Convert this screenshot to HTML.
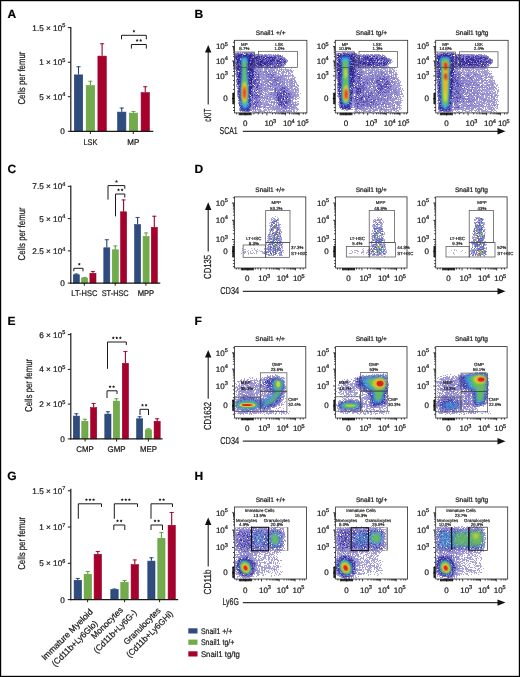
<!DOCTYPE html>
<html><head><meta charset="utf-8"><style>
html,body{margin:0;padding:0;background:#fff;width:520px;height:677px;overflow:hidden}
svg{display:block}
text{font-family:"Liberation Sans",sans-serif;text-rendering:geometricPrecision;stroke:#1a1a1a;stroke-width:0.22px}
svg{will-change:transform}
</style></head><body>
<svg width="520" height="677" viewBox="0 0 520 677" fill="#1a1a1a">
<defs><filter id="b1" x="-1" y="-1" width="3" height="3"><feGaussianBlur stdDeviation="0.6"/></filter>
<filter id="b2" x="-1" y="-1" width="3" height="3"><feGaussianBlur stdDeviation="1.2"/></filter>
<filter id="b3" x="-1" y="-1" width="3" height="3"><feGaussianBlur stdDeviation="1.8"/></filter>
<filter id="b4" x="-1" y="-1" width="3" height="3"><feGaussianBlur stdDeviation="2.4"/></filter>
<filter id="b5" x="-1" y="-1" width="3" height="3"><feGaussianBlur stdDeviation="3"/></filter>
<filter id="b6" x="-1" y="-1" width="3" height="3"><feGaussianBlur stdDeviation="3.6"/></filter>
<filter id="dn0" x="0" y="0" width="1" height="1" color-interpolation-filters="sRGB">
<feGaussianBlur in="SourceAlpha" stdDeviation="0.6" result="d"/>
<feTurbulence type="fractalNoise" baseFrequency="1.7" numOctaves="2" seed="3" result="n"/>
<feColorMatrix in="n" type="matrix" values="0 0 0 0 0 0 0 0 0 0 0 0 0 0 0 1 0 0 0 0" result="na"/>
<feComposite in="d" in2="na" operator="arithmetic" k1="3.2" k2="-0.6" k3="0" k4="0" result="v"/>
<feColorMatrix in="v" type="matrix" values="0 0 0 1 0 0 0 0 1 0 0 0 0 1 0 0 0 0 0 1" result="g"/>
<feComponentTransfer in="g" result="col"><feFuncR type="table" tableValues="0.761 0.741 0.722 0.702 0.682 0.663 0.643 0.617 0.591 0.565 0.539 0.512 0.486 0.459 0.431 0.404 0.376 0.349 0.322 0.307 0.293 0.278 0.264 0.250 0.235 0.228 0.222 0.215 0.208 0.201 0.194 0.187 0.180 0.178 0.176 0.175 0.173 0.171 0.169 0.167 0.165"/><feFuncG type="table" tableValues="0.741 0.721 0.701 0.680 0.660 0.640 0.620 0.592 0.565 0.537 0.510 0.482 0.455 0.426 0.397 0.369 0.340 0.311 0.282 0.267 0.251 0.235 0.220 0.204 0.188 0.181 0.175 0.168 0.161 0.154 0.147 0.140 0.133 0.132 0.130 0.129 0.127 0.126 0.125 0.123 0.122"/><feFuncB type="table" tableValues="0.902 0.893 0.884 0.875 0.865 0.856 0.847 0.835 0.824 0.812 0.800 0.788 0.776 0.759 0.742 0.725 0.708 0.692 0.675 0.665 0.656 0.647 0.638 0.629 0.620 0.614 0.608 0.602 0.596 0.590 0.584 0.578 0.573 0.570 0.567 0.564 0.561 0.558 0.555 0.552 0.549"/></feComponentTransfer>
<feColorMatrix in="g" type="matrix" values="0 0 0 0 0 0 0 0 0 0 0 0 0 0 0 1 0 0 0 0"/>
<feComponentTransfer result="m"><feFuncA type="discrete" tableValues="0 0 0 0 0 1 1 1 1 1 1 1 1 1 1 1 1 1 1 1 1 1 1 1 1 1 1 1 1 1 1 1 1 1 1 1 1 1 1 1 1 1 1 1 1 1 1 1 1 1"/></feComponentTransfer>
<feComposite in="col" in2="m" operator="in"/>
<feGaussianBlur stdDeviation="0.5"/>
</filter>
<clipPath id="cp0"><rect x="234.5" y="40.3" width="72.4" height="72.6"/></clipPath>
<filter id="dn1" x="0" y="0" width="1" height="1" color-interpolation-filters="sRGB">
<feGaussianBlur in="SourceAlpha" stdDeviation="0.6" result="d"/>
<feTurbulence type="fractalNoise" baseFrequency="1.7" numOctaves="2" seed="10" result="n"/>
<feColorMatrix in="n" type="matrix" values="0 0 0 0 0 0 0 0 0 0 0 0 0 0 0 1 0 0 0 0" result="na"/>
<feComposite in="d" in2="na" operator="arithmetic" k1="3.2" k2="-0.6" k3="0" k4="0" result="v"/>
<feColorMatrix in="v" type="matrix" values="0 0 0 1 0 0 0 0 1 0 0 0 0 1 0 0 0 0 0 1" result="g"/>
<feComponentTransfer in="g" result="col"><feFuncR type="table" tableValues="0.761 0.741 0.722 0.702 0.682 0.663 0.643 0.617 0.591 0.565 0.539 0.512 0.486 0.459 0.431 0.404 0.376 0.349 0.322 0.307 0.293 0.278 0.264 0.250 0.235 0.228 0.222 0.215 0.208 0.201 0.194 0.187 0.180 0.178 0.176 0.175 0.173 0.171 0.169 0.167 0.165"/><feFuncG type="table" tableValues="0.741 0.721 0.701 0.680 0.660 0.640 0.620 0.592 0.565 0.537 0.510 0.482 0.455 0.426 0.397 0.369 0.340 0.311 0.282 0.267 0.251 0.235 0.220 0.204 0.188 0.181 0.175 0.168 0.161 0.154 0.147 0.140 0.133 0.132 0.130 0.129 0.127 0.126 0.125 0.123 0.122"/><feFuncB type="table" tableValues="0.902 0.893 0.884 0.875 0.865 0.856 0.847 0.835 0.824 0.812 0.800 0.788 0.776 0.759 0.742 0.725 0.708 0.692 0.675 0.665 0.656 0.647 0.638 0.629 0.620 0.614 0.608 0.602 0.596 0.590 0.584 0.578 0.573 0.570 0.567 0.564 0.561 0.558 0.555 0.552 0.549"/></feComponentTransfer>
<feColorMatrix in="g" type="matrix" values="0 0 0 0 0 0 0 0 0 0 0 0 0 0 0 1 0 0 0 0"/>
<feComponentTransfer result="m"><feFuncA type="discrete" tableValues="0 0 0 0 0 1 1 1 1 1 1 1 1 1 1 1 1 1 1 1 1 1 1 1 1 1 1 1 1 1 1 1 1 1 1 1 1 1 1 1 1 1 1 1 1 1 1 1 1 1"/></feComponentTransfer>
<feComposite in="col" in2="m" operator="in"/>
<feGaussianBlur stdDeviation="0.5"/>
</filter>
<clipPath id="cp1"><rect x="335.3" y="40.3" width="72.4" height="72.6"/></clipPath>
<filter id="dn2" x="0" y="0" width="1" height="1" color-interpolation-filters="sRGB">
<feGaussianBlur in="SourceAlpha" stdDeviation="0.6" result="d"/>
<feTurbulence type="fractalNoise" baseFrequency="1.7" numOctaves="2" seed="17" result="n"/>
<feColorMatrix in="n" type="matrix" values="0 0 0 0 0 0 0 0 0 0 0 0 0 0 0 1 0 0 0 0" result="na"/>
<feComposite in="d" in2="na" operator="arithmetic" k1="3.2" k2="-0.6" k3="0" k4="0" result="v"/>
<feColorMatrix in="v" type="matrix" values="0 0 0 1 0 0 0 0 1 0 0 0 0 1 0 0 0 0 0 1" result="g"/>
<feComponentTransfer in="g" result="col"><feFuncR type="table" tableValues="0.761 0.741 0.722 0.702 0.682 0.663 0.643 0.617 0.591 0.565 0.539 0.512 0.486 0.459 0.431 0.404 0.376 0.349 0.322 0.307 0.293 0.278 0.264 0.250 0.235 0.228 0.222 0.215 0.208 0.201 0.194 0.187 0.180 0.178 0.176 0.175 0.173 0.171 0.169 0.167 0.165"/><feFuncG type="table" tableValues="0.741 0.721 0.701 0.680 0.660 0.640 0.620 0.592 0.565 0.537 0.510 0.482 0.455 0.426 0.397 0.369 0.340 0.311 0.282 0.267 0.251 0.235 0.220 0.204 0.188 0.181 0.175 0.168 0.161 0.154 0.147 0.140 0.133 0.132 0.130 0.129 0.127 0.126 0.125 0.123 0.122"/><feFuncB type="table" tableValues="0.902 0.893 0.884 0.875 0.865 0.856 0.847 0.835 0.824 0.812 0.800 0.788 0.776 0.759 0.742 0.725 0.708 0.692 0.675 0.665 0.656 0.647 0.638 0.629 0.620 0.614 0.608 0.602 0.596 0.590 0.584 0.578 0.573 0.570 0.567 0.564 0.561 0.558 0.555 0.552 0.549"/></feComponentTransfer>
<feColorMatrix in="g" type="matrix" values="0 0 0 0 0 0 0 0 0 0 0 0 0 0 0 1 0 0 0 0"/>
<feComponentTransfer result="m"><feFuncA type="discrete" tableValues="0 0 0 0 0 1 1 1 1 1 1 1 1 1 1 1 1 1 1 1 1 1 1 1 1 1 1 1 1 1 1 1 1 1 1 1 1 1 1 1 1 1 1 1 1 1 1 1 1 1"/></feComponentTransfer>
<feComposite in="col" in2="m" operator="in"/>
<feGaussianBlur stdDeviation="0.5"/>
</filter>
<clipPath id="cp2"><rect x="435.7" y="40.3" width="72.4" height="72.6"/></clipPath>
<filter id="dn3" x="0" y="0" width="1" height="1" color-interpolation-filters="sRGB">
<feGaussianBlur in="SourceAlpha" stdDeviation="0.6" result="d"/>
<feTurbulence type="fractalNoise" baseFrequency="1.9" numOctaves="2" seed="24" result="n"/>
<feColorMatrix in="n" type="matrix" values="0 0 0 0 0 0 0 0 0 0 0 0 0 0 0 1 0 0 0 0" result="na"/>
<feComposite in="d" in2="na" operator="arithmetic" k1="4" k2="-1" k3="0" k4="0" result="v"/>
<feColorMatrix in="v" type="matrix" values="0 0 0 1 0 0 0 0 1 0 0 0 0 1 0 0 0 0 0 1" result="g"/>
<feComponentTransfer in="g" result="col"><feFuncR type="table" tableValues="0.800 0.785 0.769 0.754 0.738 0.723 0.698 0.659 0.620 0.575 0.506 0.437 0.380 0.325 0.314 0.327 0.396 0.559 0.784 0.882 0.925 0.886 0.876 0.872 0.869 0.866 0.862 0.859 0.856 0.852 0.849 0.846 0.842 0.839 0.836 0.832 0.829 0.826 0.822 0.819 0.816"/><feFuncG type="table" tableValues="0.784 0.768 0.751 0.734 0.717 0.700 0.675 0.635 0.596 0.550 0.478 0.407 0.386 0.378 0.541 0.712 0.741 0.776 0.816 0.698 0.518 0.243 0.184 0.179 0.174 0.169 0.164 0.159 0.154 0.149 0.144 0.139 0.134 0.129 0.124 0.119 0.114 0.109 0.104 0.099 0.094"/><feFuncB type="table" tableValues="0.918 0.909 0.901 0.892 0.884 0.876 0.865 0.850 0.835 0.817 0.784 0.752 0.755 0.766 0.808 0.792 0.518 0.325 0.188 0.149 0.125 0.125 0.124 0.122 0.121 0.119 0.117 0.116 0.114 0.112 0.111 0.109 0.107 0.106 0.104 0.102 0.101 0.099 0.097 0.096 0.094"/></feComponentTransfer>
<feColorMatrix in="g" type="matrix" values="0 0 0 0 0 0 0 0 0 0 0 0 0 0 0 1 0 0 0 0"/>
<feComponentTransfer result="m"><feFuncA type="discrete" tableValues="0 0 0 0 0 0 1 1 1 1 1 1 1 1 1 1 1 1 1 1 1 1 1 1 1 1 1 1 1 1 1 1 1 1 1 1 1 1 1 1 1 1 1 1 1 1 1 1 1 1"/></feComponentTransfer>
<feComposite in="col" in2="m" operator="in"/>
<feGaussianBlur stdDeviation="0.6"/>
</filter>
<clipPath id="cp3"><rect x="234.4" y="196.9" width="71.4" height="71.1"/></clipPath>
<filter id="dn4" x="0" y="0" width="1" height="1" color-interpolation-filters="sRGB">
<feGaussianBlur in="SourceAlpha" stdDeviation="0.6" result="d"/>
<feTurbulence type="fractalNoise" baseFrequency="1.9" numOctaves="2" seed="31" result="n"/>
<feColorMatrix in="n" type="matrix" values="0 0 0 0 0 0 0 0 0 0 0 0 0 0 0 1 0 0 0 0" result="na"/>
<feComposite in="d" in2="na" operator="arithmetic" k1="4" k2="-1" k3="0" k4="0" result="v"/>
<feColorMatrix in="v" type="matrix" values="0 0 0 1 0 0 0 0 1 0 0 0 0 1 0 0 0 0 0 1" result="g"/>
<feComponentTransfer in="g" result="col"><feFuncR type="table" tableValues="0.800 0.785 0.769 0.754 0.738 0.723 0.698 0.659 0.620 0.575 0.506 0.437 0.380 0.325 0.314 0.327 0.396 0.559 0.784 0.882 0.925 0.886 0.876 0.872 0.869 0.866 0.862 0.859 0.856 0.852 0.849 0.846 0.842 0.839 0.836 0.832 0.829 0.826 0.822 0.819 0.816"/><feFuncG type="table" tableValues="0.784 0.768 0.751 0.734 0.717 0.700 0.675 0.635 0.596 0.550 0.478 0.407 0.386 0.378 0.541 0.712 0.741 0.776 0.816 0.698 0.518 0.243 0.184 0.179 0.174 0.169 0.164 0.159 0.154 0.149 0.144 0.139 0.134 0.129 0.124 0.119 0.114 0.109 0.104 0.099 0.094"/><feFuncB type="table" tableValues="0.918 0.909 0.901 0.892 0.884 0.876 0.865 0.850 0.835 0.817 0.784 0.752 0.755 0.766 0.808 0.792 0.518 0.325 0.188 0.149 0.125 0.125 0.124 0.122 0.121 0.119 0.117 0.116 0.114 0.112 0.111 0.109 0.107 0.106 0.104 0.102 0.101 0.099 0.097 0.096 0.094"/></feComponentTransfer>
<feColorMatrix in="g" type="matrix" values="0 0 0 0 0 0 0 0 0 0 0 0 0 0 0 1 0 0 0 0"/>
<feComponentTransfer result="m"><feFuncA type="discrete" tableValues="0 0 0 0 0 0 1 1 1 1 1 1 1 1 1 1 1 1 1 1 1 1 1 1 1 1 1 1 1 1 1 1 1 1 1 1 1 1 1 1 1 1 1 1 1 1 1 1 1 1"/></feComponentTransfer>
<feComposite in="col" in2="m" operator="in"/>
<feGaussianBlur stdDeviation="0.6"/>
</filter>
<clipPath id="cp4"><rect x="335.6" y="196.9" width="71.4" height="71.1"/></clipPath>
<filter id="dn5" x="0" y="0" width="1" height="1" color-interpolation-filters="sRGB">
<feGaussianBlur in="SourceAlpha" stdDeviation="0.6" result="d"/>
<feTurbulence type="fractalNoise" baseFrequency="1.9" numOctaves="2" seed="38" result="n"/>
<feColorMatrix in="n" type="matrix" values="0 0 0 0 0 0 0 0 0 0 0 0 0 0 0 1 0 0 0 0" result="na"/>
<feComposite in="d" in2="na" operator="arithmetic" k1="4" k2="-1" k3="0" k4="0" result="v"/>
<feColorMatrix in="v" type="matrix" values="0 0 0 1 0 0 0 0 1 0 0 0 0 1 0 0 0 0 0 1" result="g"/>
<feComponentTransfer in="g" result="col"><feFuncR type="table" tableValues="0.800 0.785 0.769 0.754 0.738 0.723 0.698 0.659 0.620 0.575 0.506 0.437 0.380 0.325 0.314 0.327 0.396 0.559 0.784 0.882 0.925 0.886 0.876 0.872 0.869 0.866 0.862 0.859 0.856 0.852 0.849 0.846 0.842 0.839 0.836 0.832 0.829 0.826 0.822 0.819 0.816"/><feFuncG type="table" tableValues="0.784 0.768 0.751 0.734 0.717 0.700 0.675 0.635 0.596 0.550 0.478 0.407 0.386 0.378 0.541 0.712 0.741 0.776 0.816 0.698 0.518 0.243 0.184 0.179 0.174 0.169 0.164 0.159 0.154 0.149 0.144 0.139 0.134 0.129 0.124 0.119 0.114 0.109 0.104 0.099 0.094"/><feFuncB type="table" tableValues="0.918 0.909 0.901 0.892 0.884 0.876 0.865 0.850 0.835 0.817 0.784 0.752 0.755 0.766 0.808 0.792 0.518 0.325 0.188 0.149 0.125 0.125 0.124 0.122 0.121 0.119 0.117 0.116 0.114 0.112 0.111 0.109 0.107 0.106 0.104 0.102 0.101 0.099 0.097 0.096 0.094"/></feComponentTransfer>
<feColorMatrix in="g" type="matrix" values="0 0 0 0 0 0 0 0 0 0 0 0 0 0 0 1 0 0 0 0"/>
<feComponentTransfer result="m"><feFuncA type="discrete" tableValues="0 0 0 0 0 0 1 1 1 1 1 1 1 1 1 1 1 1 1 1 1 1 1 1 1 1 1 1 1 1 1 1 1 1 1 1 1 1 1 1 1 1 1 1 1 1 1 1 1 1"/></feComponentTransfer>
<feComposite in="col" in2="m" operator="in"/>
<feGaussianBlur stdDeviation="0.6"/>
</filter>
<clipPath id="cp5"><rect x="435.7" y="196.9" width="71.4" height="71.1"/></clipPath>
<filter id="dn6" x="0" y="0" width="1" height="1" color-interpolation-filters="sRGB">
<feGaussianBlur in="SourceAlpha" stdDeviation="0.6" result="d"/>
<feTurbulence type="fractalNoise" baseFrequency="1.7" numOctaves="2" seed="45" result="n"/>
<feColorMatrix in="n" type="matrix" values="0 0 0 0 0 0 0 0 0 0 0 0 0 0 0 1 0 0 0 0" result="na"/>
<feComposite in="d" in2="na" operator="arithmetic" k1="3.2" k2="-0.6" k3="0" k4="0" result="v"/>
<feColorMatrix in="v" type="matrix" values="0 0 0 1 0 0 0 0 1 0 0 0 0 1 0 0 0 0 0 1" result="g"/>
<feComponentTransfer in="g" result="col"><feFuncR type="table" tableValues="0.761 0.741 0.722 0.702 0.682 0.663 0.643 0.617 0.591 0.565 0.539 0.512 0.486 0.459 0.431 0.404 0.376 0.349 0.322 0.307 0.293 0.278 0.264 0.250 0.235 0.228 0.222 0.215 0.208 0.201 0.194 0.187 0.180 0.178 0.176 0.175 0.173 0.171 0.169 0.167 0.165"/><feFuncG type="table" tableValues="0.741 0.721 0.701 0.680 0.660 0.640 0.620 0.592 0.565 0.537 0.510 0.482 0.455 0.426 0.397 0.369 0.340 0.311 0.282 0.267 0.251 0.235 0.220 0.204 0.188 0.181 0.175 0.168 0.161 0.154 0.147 0.140 0.133 0.132 0.130 0.129 0.127 0.126 0.125 0.123 0.122"/><feFuncB type="table" tableValues="0.902 0.893 0.884 0.875 0.865 0.856 0.847 0.835 0.824 0.812 0.800 0.788 0.776 0.759 0.742 0.725 0.708 0.692 0.675 0.665 0.656 0.647 0.638 0.629 0.620 0.614 0.608 0.602 0.596 0.590 0.584 0.578 0.573 0.570 0.567 0.564 0.561 0.558 0.555 0.552 0.549"/></feComponentTransfer>
<feColorMatrix in="g" type="matrix" values="0 0 0 0 0 0 0 0 0 0 0 0 0 0 0 1 0 0 0 0"/>
<feComponentTransfer result="m"><feFuncA type="discrete" tableValues="0 0 0 0 0 1 1 1 1 1 1 1 1 1 1 1 1 1 1 1 1 1 1 1 1 1 1 1 1 1 1 1 1 1 1 1 1 1 1 1 1 1 1 1 1 1 1 1 1 1"/></feComponentTransfer>
<feComposite in="col" in2="m" operator="in"/>
<feGaussianBlur stdDeviation="0.5"/>
</filter>
<clipPath id="cp6"><rect x="234.4" y="346.6" width="71.4" height="71.4"/></clipPath>
<filter id="dn7" x="0" y="0" width="1" height="1" color-interpolation-filters="sRGB">
<feGaussianBlur in="SourceAlpha" stdDeviation="0.6" result="d"/>
<feTurbulence type="fractalNoise" baseFrequency="1.7" numOctaves="2" seed="52" result="n"/>
<feColorMatrix in="n" type="matrix" values="0 0 0 0 0 0 0 0 0 0 0 0 0 0 0 1 0 0 0 0" result="na"/>
<feComposite in="d" in2="na" operator="arithmetic" k1="3.2" k2="-0.6" k3="0" k4="0" result="v"/>
<feColorMatrix in="v" type="matrix" values="0 0 0 1 0 0 0 0 1 0 0 0 0 1 0 0 0 0 0 1" result="g"/>
<feComponentTransfer in="g" result="col"><feFuncR type="table" tableValues="0.761 0.741 0.722 0.702 0.682 0.663 0.643 0.617 0.591 0.565 0.539 0.512 0.486 0.459 0.431 0.404 0.376 0.349 0.322 0.307 0.293 0.278 0.264 0.250 0.235 0.228 0.222 0.215 0.208 0.201 0.194 0.187 0.180 0.178 0.176 0.175 0.173 0.171 0.169 0.167 0.165"/><feFuncG type="table" tableValues="0.741 0.721 0.701 0.680 0.660 0.640 0.620 0.592 0.565 0.537 0.510 0.482 0.455 0.426 0.397 0.369 0.340 0.311 0.282 0.267 0.251 0.235 0.220 0.204 0.188 0.181 0.175 0.168 0.161 0.154 0.147 0.140 0.133 0.132 0.130 0.129 0.127 0.126 0.125 0.123 0.122"/><feFuncB type="table" tableValues="0.902 0.893 0.884 0.875 0.865 0.856 0.847 0.835 0.824 0.812 0.800 0.788 0.776 0.759 0.742 0.725 0.708 0.692 0.675 0.665 0.656 0.647 0.638 0.629 0.620 0.614 0.608 0.602 0.596 0.590 0.584 0.578 0.573 0.570 0.567 0.564 0.561 0.558 0.555 0.552 0.549"/></feComponentTransfer>
<feColorMatrix in="g" type="matrix" values="0 0 0 0 0 0 0 0 0 0 0 0 0 0 0 1 0 0 0 0"/>
<feComponentTransfer result="m"><feFuncA type="discrete" tableValues="0 0 0 0 0 1 1 1 1 1 1 1 1 1 1 1 1 1 1 1 1 1 1 1 1 1 1 1 1 1 1 1 1 1 1 1 1 1 1 1 1 1 1 1 1 1 1 1 1 1"/></feComponentTransfer>
<feComposite in="col" in2="m" operator="in"/>
<feGaussianBlur stdDeviation="0.5"/>
</filter>
<clipPath id="cp7"><rect x="335.6" y="346.6" width="71.4" height="71.4"/></clipPath>
<filter id="dn8" x="0" y="0" width="1" height="1" color-interpolation-filters="sRGB">
<feGaussianBlur in="SourceAlpha" stdDeviation="0.6" result="d"/>
<feTurbulence type="fractalNoise" baseFrequency="1.7" numOctaves="2" seed="59" result="n"/>
<feColorMatrix in="n" type="matrix" values="0 0 0 0 0 0 0 0 0 0 0 0 0 0 0 1 0 0 0 0" result="na"/>
<feComposite in="d" in2="na" operator="arithmetic" k1="3.2" k2="-0.6" k3="0" k4="0" result="v"/>
<feColorMatrix in="v" type="matrix" values="0 0 0 1 0 0 0 0 1 0 0 0 0 1 0 0 0 0 0 1" result="g"/>
<feComponentTransfer in="g" result="col"><feFuncR type="table" tableValues="0.761 0.741 0.722 0.702 0.682 0.663 0.643 0.617 0.591 0.565 0.539 0.512 0.486 0.459 0.431 0.404 0.376 0.349 0.322 0.307 0.293 0.278 0.264 0.250 0.235 0.228 0.222 0.215 0.208 0.201 0.194 0.187 0.180 0.178 0.176 0.175 0.173 0.171 0.169 0.167 0.165"/><feFuncG type="table" tableValues="0.741 0.721 0.701 0.680 0.660 0.640 0.620 0.592 0.565 0.537 0.510 0.482 0.455 0.426 0.397 0.369 0.340 0.311 0.282 0.267 0.251 0.235 0.220 0.204 0.188 0.181 0.175 0.168 0.161 0.154 0.147 0.140 0.133 0.132 0.130 0.129 0.127 0.126 0.125 0.123 0.122"/><feFuncB type="table" tableValues="0.902 0.893 0.884 0.875 0.865 0.856 0.847 0.835 0.824 0.812 0.800 0.788 0.776 0.759 0.742 0.725 0.708 0.692 0.675 0.665 0.656 0.647 0.638 0.629 0.620 0.614 0.608 0.602 0.596 0.590 0.584 0.578 0.573 0.570 0.567 0.564 0.561 0.558 0.555 0.552 0.549"/></feComponentTransfer>
<feColorMatrix in="g" type="matrix" values="0 0 0 0 0 0 0 0 0 0 0 0 0 0 0 1 0 0 0 0"/>
<feComponentTransfer result="m"><feFuncA type="discrete" tableValues="0 0 0 0 0 1 1 1 1 1 1 1 1 1 1 1 1 1 1 1 1 1 1 1 1 1 1 1 1 1 1 1 1 1 1 1 1 1 1 1 1 1 1 1 1 1 1 1 1 1"/></feComponentTransfer>
<feComposite in="col" in2="m" operator="in"/>
<feGaussianBlur stdDeviation="0.5"/>
</filter>
<clipPath id="cp8"><rect x="435.7" y="346.6" width="71.4" height="71.4"/></clipPath>
<filter id="dn9" x="0" y="0" width="1" height="1" color-interpolation-filters="sRGB">
<feGaussianBlur in="SourceAlpha" stdDeviation="0.6" result="d"/>
<feTurbulence type="fractalNoise" baseFrequency="1.7" numOctaves="2" seed="66" result="n"/>
<feColorMatrix in="n" type="matrix" values="0 0 0 0 0 0 0 0 0 0 0 0 0 0 0 1 0 0 0 0" result="na"/>
<feComposite in="d" in2="na" operator="arithmetic" k1="3.2" k2="-0.6" k3="0" k4="0" result="v"/>
<feColorMatrix in="v" type="matrix" values="0 0 0 1 0 0 0 0 1 0 0 0 0 1 0 0 0 0 0 1" result="g"/>
<feComponentTransfer in="g" result="col"><feFuncR type="table" tableValues="0.761 0.741 0.722 0.702 0.682 0.663 0.643 0.617 0.591 0.565 0.539 0.512 0.486 0.459 0.431 0.404 0.376 0.349 0.322 0.307 0.293 0.278 0.264 0.250 0.235 0.228 0.222 0.215 0.208 0.201 0.194 0.187 0.180 0.178 0.176 0.175 0.173 0.171 0.169 0.167 0.165"/><feFuncG type="table" tableValues="0.741 0.721 0.701 0.680 0.660 0.640 0.620 0.592 0.565 0.537 0.510 0.482 0.455 0.426 0.397 0.369 0.340 0.311 0.282 0.267 0.251 0.235 0.220 0.204 0.188 0.181 0.175 0.168 0.161 0.154 0.147 0.140 0.133 0.132 0.130 0.129 0.127 0.126 0.125 0.123 0.122"/><feFuncB type="table" tableValues="0.902 0.893 0.884 0.875 0.865 0.856 0.847 0.835 0.824 0.812 0.800 0.788 0.776 0.759 0.742 0.725 0.708 0.692 0.675 0.665 0.656 0.647 0.638 0.629 0.620 0.614 0.608 0.602 0.596 0.590 0.584 0.578 0.573 0.570 0.567 0.564 0.561 0.558 0.555 0.552 0.549"/></feComponentTransfer>
<feColorMatrix in="g" type="matrix" values="0 0 0 0 0 0 0 0 0 0 0 0 0 0 0 1 0 0 0 0"/>
<feComponentTransfer result="m"><feFuncA type="discrete" tableValues="0 0 0 0 0 1 1 1 1 1 1 1 1 1 1 1 1 1 1 1 1 1 1 1 1 1 1 1 1 1 1 1 1 1 1 1 1 1 1 1 1 1 1 1 1 1 1 1 1 1"/></feComponentTransfer>
<feComposite in="col" in2="m" operator="in"/>
<feGaussianBlur stdDeviation="0.5"/>
</filter>
<clipPath id="cp9"><rect x="234.5" y="507" width="72" height="72"/></clipPath>
<filter id="dn10" x="0" y="0" width="1" height="1" color-interpolation-filters="sRGB">
<feGaussianBlur in="SourceAlpha" stdDeviation="0.6" result="d"/>
<feTurbulence type="fractalNoise" baseFrequency="1.7" numOctaves="2" seed="73" result="n"/>
<feColorMatrix in="n" type="matrix" values="0 0 0 0 0 0 0 0 0 0 0 0 0 0 0 1 0 0 0 0" result="na"/>
<feComposite in="d" in2="na" operator="arithmetic" k1="3.2" k2="-0.6" k3="0" k4="0" result="v"/>
<feColorMatrix in="v" type="matrix" values="0 0 0 1 0 0 0 0 1 0 0 0 0 1 0 0 0 0 0 1" result="g"/>
<feComponentTransfer in="g" result="col"><feFuncR type="table" tableValues="0.761 0.741 0.722 0.702 0.682 0.663 0.643 0.617 0.591 0.565 0.539 0.512 0.486 0.459 0.431 0.404 0.376 0.349 0.322 0.307 0.293 0.278 0.264 0.250 0.235 0.228 0.222 0.215 0.208 0.201 0.194 0.187 0.180 0.178 0.176 0.175 0.173 0.171 0.169 0.167 0.165"/><feFuncG type="table" tableValues="0.741 0.721 0.701 0.680 0.660 0.640 0.620 0.592 0.565 0.537 0.510 0.482 0.455 0.426 0.397 0.369 0.340 0.311 0.282 0.267 0.251 0.235 0.220 0.204 0.188 0.181 0.175 0.168 0.161 0.154 0.147 0.140 0.133 0.132 0.130 0.129 0.127 0.126 0.125 0.123 0.122"/><feFuncB type="table" tableValues="0.902 0.893 0.884 0.875 0.865 0.856 0.847 0.835 0.824 0.812 0.800 0.788 0.776 0.759 0.742 0.725 0.708 0.692 0.675 0.665 0.656 0.647 0.638 0.629 0.620 0.614 0.608 0.602 0.596 0.590 0.584 0.578 0.573 0.570 0.567 0.564 0.561 0.558 0.555 0.552 0.549"/></feComponentTransfer>
<feColorMatrix in="g" type="matrix" values="0 0 0 0 0 0 0 0 0 0 0 0 0 0 0 1 0 0 0 0"/>
<feComponentTransfer result="m"><feFuncA type="discrete" tableValues="0 0 0 0 0 1 1 1 1 1 1 1 1 1 1 1 1 1 1 1 1 1 1 1 1 1 1 1 1 1 1 1 1 1 1 1 1 1 1 1 1 1 1 1 1 1 1 1 1 1"/></feComponentTransfer>
<feComposite in="col" in2="m" operator="in"/>
<feGaussianBlur stdDeviation="0.5"/>
</filter>
<clipPath id="cp10"><rect x="335.6" y="507" width="72" height="72"/></clipPath>
<filter id="dn11" x="0" y="0" width="1" height="1" color-interpolation-filters="sRGB">
<feGaussianBlur in="SourceAlpha" stdDeviation="0.6" result="d"/>
<feTurbulence type="fractalNoise" baseFrequency="1.7" numOctaves="2" seed="80" result="n"/>
<feColorMatrix in="n" type="matrix" values="0 0 0 0 0 0 0 0 0 0 0 0 0 0 0 1 0 0 0 0" result="na"/>
<feComposite in="d" in2="na" operator="arithmetic" k1="3.2" k2="-0.6" k3="0" k4="0" result="v"/>
<feColorMatrix in="v" type="matrix" values="0 0 0 1 0 0 0 0 1 0 0 0 0 1 0 0 0 0 0 1" result="g"/>
<feComponentTransfer in="g" result="col"><feFuncR type="table" tableValues="0.761 0.741 0.722 0.702 0.682 0.663 0.643 0.617 0.591 0.565 0.539 0.512 0.486 0.459 0.431 0.404 0.376 0.349 0.322 0.307 0.293 0.278 0.264 0.250 0.235 0.228 0.222 0.215 0.208 0.201 0.194 0.187 0.180 0.178 0.176 0.175 0.173 0.171 0.169 0.167 0.165"/><feFuncG type="table" tableValues="0.741 0.721 0.701 0.680 0.660 0.640 0.620 0.592 0.565 0.537 0.510 0.482 0.455 0.426 0.397 0.369 0.340 0.311 0.282 0.267 0.251 0.235 0.220 0.204 0.188 0.181 0.175 0.168 0.161 0.154 0.147 0.140 0.133 0.132 0.130 0.129 0.127 0.126 0.125 0.123 0.122"/><feFuncB type="table" tableValues="0.902 0.893 0.884 0.875 0.865 0.856 0.847 0.835 0.824 0.812 0.800 0.788 0.776 0.759 0.742 0.725 0.708 0.692 0.675 0.665 0.656 0.647 0.638 0.629 0.620 0.614 0.608 0.602 0.596 0.590 0.584 0.578 0.573 0.570 0.567 0.564 0.561 0.558 0.555 0.552 0.549"/></feComponentTransfer>
<feColorMatrix in="g" type="matrix" values="0 0 0 0 0 0 0 0 0 0 0 0 0 0 0 1 0 0 0 0"/>
<feComponentTransfer result="m"><feFuncA type="discrete" tableValues="0 0 0 0 0 1 1 1 1 1 1 1 1 1 1 1 1 1 1 1 1 1 1 1 1 1 1 1 1 1 1 1 1 1 1 1 1 1 1 1 1 1 1 1 1 1 1 1 1 1"/></feComponentTransfer>
<feComposite in="col" in2="m" operator="in"/>
<feGaussianBlur stdDeviation="0.5"/>
</filter>
<clipPath id="cp11"><rect x="435.7" y="507" width="72" height="72"/></clipPath></defs>
<rect x="0" y="0" width="520" height="677" fill="#fff"/>
<text x="7.6" y="17.6" font-size="12" font-weight="bold" fill="#000">A</text>
<text x="194.4" y="17.6" font-size="12" font-weight="bold" fill="#000">B</text>
<text x="7.4" y="172.8" font-size="12" font-weight="bold" fill="#000">C</text>
<text x="194.6" y="172.8" font-size="12" font-weight="bold" fill="#000">D</text>
<text x="7.4" y="324.8" font-size="12" font-weight="bold" fill="#000">E</text>
<text x="194.6" y="324.8" font-size="12" font-weight="bold" fill="#000">F</text>
<text x="7.2" y="480.3" font-size="12" font-weight="bold" fill="#000">G</text>
<text x="194.6" y="480.3" font-size="12" font-weight="bold" fill="#000">H</text>
<text transform="translate(25.4 78.1) rotate(-90)" x="0" y="0" font-size="10" text-anchor="middle" textLength="53" lengthAdjust="spacingAndGlyphs">Cells per femur</text>
<path d="M67.8 27.6L70.8 27.6" stroke="#1a1a1a" stroke-width="1"/>
<text x="62.2" y="30.5" font-size="8.2" text-anchor="end">1.5 × 10</text>
<text x="62.2" y="27.2" font-size="5.58">5</text>
<path d="M67.8 62.2L70.8 62.2" stroke="#1a1a1a" stroke-width="1"/>
<text x="62.2" y="65.1" font-size="8.2" text-anchor="end">1 × 10</text>
<text x="62.2" y="61.8" font-size="5.58">5</text>
<path d="M67.8 96.7L70.8 96.7" stroke="#1a1a1a" stroke-width="1"/>
<text x="62.2" y="99.6" font-size="8.2" text-anchor="end">5 × 10</text>
<text x="62.2" y="96.3" font-size="5.58">4</text>
<path d="M67.8 131.3L70.8 131.3" stroke="#1a1a1a" stroke-width="1"/>
<text x="64.8" y="134.2" font-size="8.2" text-anchor="end">0</text>
<path d="M78.5 74.6L78.5 66.3" stroke="#223f74" stroke-width="1.1"/>
<path d="M76.4 66.75L80.6 66.75" stroke="#223f74" stroke-width="0.9"/>
<rect x="74.3" y="74.9" width="8.4" height="56.4" fill="#2f4c7f" stroke="#223f74" stroke-width="0.6"/>
<path d="M90.4 85.3L90.4 80.8" stroke="#5f9e38" stroke-width="1.1"/>
<path d="M88.3 81.25L92.5 81.25" stroke="#5f9e38" stroke-width="0.9"/>
<rect x="86.2" y="85.6" width="8.4" height="45.7" fill="#72ab4b" stroke="#5f9e38" stroke-width="0.6"/>
<path d="M102.1 55.8L102.1 43.3" stroke="#98002a" stroke-width="1.1"/>
<path d="M100 43.75L104.2 43.75" stroke="#98002a" stroke-width="0.9"/>
<rect x="97.9" y="56.1" width="8.4" height="75.2" fill="#a6002c" stroke="#98002a" stroke-width="0.6"/>
<path d="M121.75 111.8L121.75 107.6" stroke="#223f74" stroke-width="1.1"/>
<path d="M119.65 108.05L123.85 108.05" stroke="#223f74" stroke-width="0.9"/>
<rect x="117.6" y="112.1" width="8.3" height="19.2" fill="#2f4c7f" stroke="#223f74" stroke-width="0.6"/>
<path d="M133.45 112.8L133.45 111" stroke="#5f9e38" stroke-width="1.1"/>
<path d="M131.35 111.45L135.55 111.45" stroke="#5f9e38" stroke-width="0.9"/>
<rect x="129.3" y="113.1" width="8.3" height="18.2" fill="#72ab4b" stroke="#5f9e38" stroke-width="0.6"/>
<path d="M145.25 92.3L145.25 86.3" stroke="#98002a" stroke-width="1.1"/>
<path d="M143.15 86.75L147.35 86.75" stroke="#98002a" stroke-width="0.9"/>
<rect x="141.1" y="92.6" width="8.3" height="38.7" fill="#a6002c" stroke="#98002a" stroke-width="0.6"/>
<path d="M70.8 27L70.8 131.9" stroke="#1a1a1a" stroke-width="1.2"/>
<path d="M70.2 131.3L153.3 131.3" stroke="#1a1a1a" stroke-width="1.2"/>
<path d="M90.4 131.3L90.4 133.9" stroke="#1a1a1a" stroke-width="1"/>
<text x="90.4" y="145" font-size="8.2" text-anchor="middle" textLength="14" lengthAdjust="spacingAndGlyphs">LSK</text>
<path d="M133.3 131.3L133.3 133.9" stroke="#1a1a1a" stroke-width="1"/>
<text x="133.3" y="145" font-size="8.2" text-anchor="middle" textLength="12" lengthAdjust="spacingAndGlyphs">MP</text>
<path d="M121.5 39.3L121.5 35.3L146.3 35.3L146.3 39.3" stroke="#1a1a1a" stroke-width="1" fill="none"/>
<path d="M133.9 29.65L134.36 30.57L135.37 30.72L134.64 31.44L134.81 32.45L133.9 31.97L132.99 32.45L133.16 31.44L132.43 30.72L133.44 30.57Z" fill="#1a1a1a"/>
<path d="M131.4 48.6L131.4 44.5L146.3 44.5L146.3 48.6" stroke="#1a1a1a" stroke-width="1" fill="none"/>
<path d="M137.12 38.85L137.58 39.77L138.6 39.92L137.86 40.64L138.04 41.65L137.12 41.17L136.21 41.65L136.39 40.64L135.65 39.92L136.67 39.77Z" fill="#1a1a1a"/>
<path d="M140.68 38.85L141.13 39.77L142.15 39.92L141.41 40.64L141.59 41.65L140.68 41.17L139.76 41.65L139.94 40.64L139.2 39.92L140.22 39.77Z" fill="#1a1a1a"/>
<text transform="translate(25.2 233.9) rotate(-90)" x="0" y="0" font-size="10" text-anchor="middle" textLength="53" lengthAdjust="spacingAndGlyphs">Cells per femur</text>
<path d="M67.8 186.3L70.8 186.3" stroke="#1a1a1a" stroke-width="1"/>
<text x="62.2" y="189.2" font-size="8.2" text-anchor="end">7.5 × 10</text>
<text x="62.2" y="185.9" font-size="5.58">4</text>
<path d="M67.8 218.6L70.8 218.6" stroke="#1a1a1a" stroke-width="1"/>
<text x="62.2" y="221.5" font-size="8.2" text-anchor="end">5 × 10</text>
<text x="62.2" y="218.2" font-size="5.58">4</text>
<path d="M67.8 250.9L70.8 250.9" stroke="#1a1a1a" stroke-width="1"/>
<text x="62.2" y="253.8" font-size="8.2" text-anchor="end">2.5 × 10</text>
<text x="62.2" y="250.5" font-size="5.58">4</text>
<path d="M67.8 283.1L70.8 283.1" stroke="#1a1a1a" stroke-width="1"/>
<text x="64.8" y="286" font-size="8.2" text-anchor="end">0</text>
<path d="M76.3 274.5L76.3 273.6" stroke="#223f74" stroke-width="1.1"/>
<path d="M74.2 274.05L78.4 274.05" stroke="#223f74" stroke-width="0.9"/>
<rect x="73.3" y="274.8" width="6" height="8.3" fill="#2f4c7f" stroke="#223f74" stroke-width="0.6"/>
<path d="M84.6 277.8L84.6 277" stroke="#5f9e38" stroke-width="1.1"/>
<path d="M82.5 277.45L86.7 277.45" stroke="#5f9e38" stroke-width="0.9"/>
<rect x="81.6" y="278.1" width="6" height="5" fill="#72ab4b" stroke="#5f9e38" stroke-width="0.6"/>
<path d="M92.95 273L92.95 271" stroke="#98002a" stroke-width="1.1"/>
<path d="M90.85 271.45L95.05 271.45" stroke="#98002a" stroke-width="0.9"/>
<rect x="89.9" y="273.3" width="6.1" height="9.8" fill="#a6002c" stroke="#98002a" stroke-width="0.6"/>
<path d="M106.8 247.5L106.8 239.3" stroke="#223f74" stroke-width="1.1"/>
<path d="M104.7 239.75L108.9 239.75" stroke="#223f74" stroke-width="0.9"/>
<rect x="103.8" y="247.8" width="6" height="35.3" fill="#2f4c7f" stroke="#223f74" stroke-width="0.6"/>
<path d="M115.3 249.5L115.3 245.5" stroke="#5f9e38" stroke-width="1.1"/>
<path d="M113.2 245.95L117.4 245.95" stroke="#5f9e38" stroke-width="0.9"/>
<rect x="112.3" y="249.8" width="6" height="33.3" fill="#72ab4b" stroke="#5f9e38" stroke-width="0.6"/>
<path d="M123.6 211.5L123.6 199.5" stroke="#98002a" stroke-width="1.1"/>
<path d="M121.5 199.95L125.7 199.95" stroke="#98002a" stroke-width="0.9"/>
<rect x="120.6" y="211.8" width="6" height="71.3" fill="#a6002c" stroke="#98002a" stroke-width="0.6"/>
<path d="M137.6 224.3L137.6 217" stroke="#223f74" stroke-width="1.1"/>
<path d="M135.5 217.45L139.7 217.45" stroke="#223f74" stroke-width="0.9"/>
<rect x="134.6" y="224.6" width="6" height="58.5" fill="#2f4c7f" stroke="#223f74" stroke-width="0.6"/>
<path d="M146.1 236.3L146.1 232.5" stroke="#5f9e38" stroke-width="1.1"/>
<path d="M144 232.95L148.2 232.95" stroke="#5f9e38" stroke-width="0.9"/>
<rect x="143.1" y="236.6" width="6" height="46.5" fill="#72ab4b" stroke="#5f9e38" stroke-width="0.6"/>
<path d="M154.3 227L154.3 215.8" stroke="#98002a" stroke-width="1.1"/>
<path d="M152.2 216.25L156.4 216.25" stroke="#98002a" stroke-width="0.9"/>
<rect x="151.3" y="227.3" width="6" height="55.8" fill="#a6002c" stroke="#98002a" stroke-width="0.6"/>
<path d="M70.8 185.5L70.8 283.7" stroke="#1a1a1a" stroke-width="1.2"/>
<path d="M70.2 283.1L160.3 283.1" stroke="#1a1a1a" stroke-width="1.2"/>
<path d="M84.3 283.1L84.3 285.7" stroke="#1a1a1a" stroke-width="1"/>
<text x="84.3" y="296" font-size="8.2" text-anchor="middle" textLength="26" lengthAdjust="spacingAndGlyphs">LT-HSC</text>
<path d="M115.2 283.1L115.2 285.7" stroke="#1a1a1a" stroke-width="1"/>
<text x="115.2" y="296" font-size="8.2" text-anchor="middle" textLength="27" lengthAdjust="spacingAndGlyphs">ST-HSC</text>
<path d="M145.9 283.1L145.9 285.7" stroke="#1a1a1a" stroke-width="1"/>
<text x="145.9" y="296" font-size="8.2" text-anchor="middle" textLength="16.5" lengthAdjust="spacingAndGlyphs">MPP</text>
<path d="M73.8 271.3L73.8 268.3L83 268.3L83 271.3" stroke="#1a1a1a" stroke-width="1" fill="none"/>
<path d="M79.3 262.65L79.76 263.57L80.77 263.72L80.04 264.44L80.21 265.45L79.3 264.97L78.39 265.45L78.56 264.44L77.83 263.72L78.84 263.57Z" fill="#1a1a1a"/>
<path d="M108 199.6L108 185.6L124.8 185.6L124.8 188.8" stroke="#1a1a1a" stroke-width="1" fill="none"/>
<path d="M116.5 179.95L116.96 180.87L117.97 181.02L117.24 181.74L117.41 182.75L116.5 182.28L115.59 182.75L115.76 181.74L115.03 181.02L116.04 180.87Z" fill="#1a1a1a"/>
<path d="M115.5 216.3L115.5 194L124.8 194L124.8 197.5" stroke="#1a1a1a" stroke-width="1" fill="none"/>
<path d="M118.52 188.35L118.98 189.27L120 189.42L119.26 190.14L119.44 191.15L118.52 190.68L117.61 191.15L117.79 190.14L117.05 189.42L118.07 189.27Z" fill="#1a1a1a"/>
<path d="M122.08 188.35L122.53 189.27L123.55 189.42L122.81 190.14L122.99 191.15L122.08 190.68L121.16 191.15L121.34 190.14L120.6 189.42L121.62 189.27Z" fill="#1a1a1a"/>
<text transform="translate(31.8 385.4) rotate(-90)" x="0" y="0" font-size="10" text-anchor="middle" textLength="53" lengthAdjust="spacingAndGlyphs">Cells per femur</text>
<path d="M67.8 334.6L70.8 334.6" stroke="#1a1a1a" stroke-width="1"/>
<text x="62.2" y="337.5" font-size="8.2" text-anchor="end">6 × 10</text>
<text x="62.2" y="334.2" font-size="5.58">5</text>
<path d="M67.8 369.4L70.8 369.4" stroke="#1a1a1a" stroke-width="1"/>
<text x="62.2" y="372.3" font-size="8.2" text-anchor="end">4 × 10</text>
<text x="62.2" y="369" font-size="5.58">5</text>
<path d="M67.8 404.1L70.8 404.1" stroke="#1a1a1a" stroke-width="1"/>
<text x="62.2" y="407" font-size="8.2" text-anchor="end">2 × 10</text>
<text x="62.2" y="403.7" font-size="5.58">5</text>
<path d="M67.8 438.9L70.8 438.9" stroke="#1a1a1a" stroke-width="1"/>
<text x="64.8" y="441.8" font-size="8.2" text-anchor="end">0</text>
<path d="M76.4 415.8L76.4 413.3" stroke="#223f74" stroke-width="1.1"/>
<path d="M74.3 413.75L78.5 413.75" stroke="#223f74" stroke-width="0.9"/>
<rect x="73.3" y="416.1" width="6.2" height="22.8" fill="#2f4c7f" stroke="#223f74" stroke-width="0.6"/>
<path d="M84.9 421L84.9 418.8" stroke="#5f9e38" stroke-width="1.1"/>
<path d="M82.8 419.25L87 419.25" stroke="#5f9e38" stroke-width="0.9"/>
<rect x="81.8" y="421.3" width="6.2" height="17.6" fill="#72ab4b" stroke="#5f9e38" stroke-width="0.6"/>
<path d="M93.65 407.3L93.65 403" stroke="#98002a" stroke-width="1.1"/>
<path d="M91.55 403.45L95.75 403.45" stroke="#98002a" stroke-width="0.9"/>
<rect x="90.6" y="407.6" width="6.1" height="31.3" fill="#a6002c" stroke="#98002a" stroke-width="0.6"/>
<path d="M107.9 413.8L107.9 411.3" stroke="#223f74" stroke-width="1.1"/>
<path d="M105.8 411.75L110 411.75" stroke="#223f74" stroke-width="0.9"/>
<rect x="104.8" y="414.1" width="6.2" height="24.8" fill="#2f4c7f" stroke="#223f74" stroke-width="0.6"/>
<path d="M116.4 400.8L116.4 398.3" stroke="#5f9e38" stroke-width="1.1"/>
<path d="M114.3 398.75L118.5 398.75" stroke="#5f9e38" stroke-width="0.9"/>
<rect x="113.3" y="401.1" width="6.2" height="37.8" fill="#72ab4b" stroke="#5f9e38" stroke-width="0.6"/>
<path d="M125.4 363L125.4 351" stroke="#98002a" stroke-width="1.1"/>
<path d="M123.3 351.45L127.5 351.45" stroke="#98002a" stroke-width="0.9"/>
<rect x="122.3" y="363.3" width="6.2" height="75.6" fill="#a6002c" stroke="#98002a" stroke-width="0.6"/>
<path d="M139.65 418.5L139.65 416.3" stroke="#223f74" stroke-width="1.1"/>
<path d="M137.55 416.75L141.75 416.75" stroke="#223f74" stroke-width="0.9"/>
<rect x="136.6" y="418.8" width="6.1" height="20.1" fill="#2f4c7f" stroke="#223f74" stroke-width="0.6"/>
<path d="M148.4 429.5L148.4 428.3" stroke="#5f9e38" stroke-width="1.1"/>
<path d="M146.3 428.75L150.5 428.75" stroke="#5f9e38" stroke-width="0.9"/>
<rect x="145.3" y="429.8" width="6.2" height="9.1" fill="#72ab4b" stroke="#5f9e38" stroke-width="0.6"/>
<path d="M157.15 421L157.15 418.3" stroke="#98002a" stroke-width="1.1"/>
<path d="M155.05 418.75L159.25 418.75" stroke="#98002a" stroke-width="0.9"/>
<rect x="154.1" y="421.3" width="6.1" height="17.6" fill="#a6002c" stroke="#98002a" stroke-width="0.6"/>
<path d="M70.8 333L70.8 439.5" stroke="#1a1a1a" stroke-width="1.2"/>
<path d="M70.2 438.9L162.6 438.9" stroke="#1a1a1a" stroke-width="1.2"/>
<path d="M85.1 438.9L85.1 441.5" stroke="#1a1a1a" stroke-width="1"/>
<text x="85.1" y="452.2" font-size="8.2" text-anchor="middle" textLength="17.5" lengthAdjust="spacingAndGlyphs">CMP</text>
<path d="M116.6 438.9L116.6 441.5" stroke="#1a1a1a" stroke-width="1"/>
<text x="116.6" y="452.2" font-size="8.2" text-anchor="middle" textLength="18" lengthAdjust="spacingAndGlyphs">GMP</text>
<path d="M148.4 438.9L148.4 441.5" stroke="#1a1a1a" stroke-width="1"/>
<text x="148.4" y="452.2" font-size="8.2" text-anchor="middle" textLength="17" lengthAdjust="spacingAndGlyphs">MEP</text>
<path d="M107.5 368.8L107.5 342L126.3 342L126.3 345" stroke="#1a1a1a" stroke-width="1" fill="none"/>
<path d="M113.25 336.35L113.71 337.27L114.72 337.42L113.99 338.14L114.16 339.15L113.25 338.67L112.34 339.15L112.51 338.14L111.78 337.42L112.79 337.27Z" fill="#1a1a1a"/>
<path d="M116.8 336.35L117.26 337.27L118.27 337.42L117.54 338.14L117.71 339.15L116.8 338.67L115.89 339.15L116.06 338.14L115.33 337.42L116.34 337.27Z" fill="#1a1a1a"/>
<path d="M120.35 336.35L120.81 337.27L121.82 337.42L121.09 338.14L121.26 339.15L120.35 338.67L119.44 339.15L119.61 338.14L118.88 337.42L119.89 337.27Z" fill="#1a1a1a"/>
<path d="M107 398L107 390.8L117 390.8L117 394" stroke="#1a1a1a" stroke-width="1" fill="none"/>
<path d="M110.02 385.15L110.48 386.07L111.5 386.22L110.76 386.94L110.94 387.95L110.02 387.47L109.11 387.95L109.29 386.94L108.55 386.22L109.57 386.07Z" fill="#1a1a1a"/>
<path d="M113.58 385.15L114.03 386.07L115.05 386.22L114.31 386.94L114.49 387.95L113.58 387.47L112.66 387.95L112.84 386.94L112.1 386.22L113.12 386.07Z" fill="#1a1a1a"/>
<path d="M140 415L140 409.3L148.5 409.3L148.5 415" stroke="#1a1a1a" stroke-width="1" fill="none"/>
<path d="M142.53 403.65L142.98 404.57L144 404.72L143.26 405.44L143.44 406.45L142.53 405.97L141.61 406.45L141.79 405.44L141.05 404.72L142.07 404.57Z" fill="#1a1a1a"/>
<path d="M146.08 403.65L146.53 404.57L147.55 404.72L146.81 405.44L146.99 406.45L146.08 405.97L145.16 406.45L145.34 405.44L144.6 404.72L145.62 404.57Z" fill="#1a1a1a"/>
<text transform="translate(25.4 543.3) rotate(-90)" x="0" y="0" font-size="10" text-anchor="middle" textLength="53" lengthAdjust="spacingAndGlyphs">Cells per femur</text>
<path d="M67.8 490.8L70.8 490.8" stroke="#1a1a1a" stroke-width="1"/>
<text x="62.2" y="493.7" font-size="8.2" text-anchor="end">1.5 × 10</text>
<text x="62.2" y="490.4" font-size="5.58">7</text>
<path d="M67.8 527L70.8 527" stroke="#1a1a1a" stroke-width="1"/>
<text x="62.2" y="529.9" font-size="8.2" text-anchor="end">1 × 10</text>
<text x="62.2" y="526.6" font-size="5.58">7</text>
<path d="M67.8 563.3L70.8 563.3" stroke="#1a1a1a" stroke-width="1"/>
<text x="62.2" y="566.2" font-size="8.2" text-anchor="end">5 × 10</text>
<text x="62.2" y="562.9" font-size="5.58">6</text>
<path d="M67.8 599.6L70.8 599.6" stroke="#1a1a1a" stroke-width="1"/>
<text x="64.8" y="602.5" font-size="8.2" text-anchor="end">0</text>
<path d="M77.8 580L77.8 578" stroke="#223f74" stroke-width="1.1"/>
<path d="M75.7 578.45L79.9 578.45" stroke="#223f74" stroke-width="0.9"/>
<rect x="74.1" y="580.3" width="7.4" height="19.3" fill="#2f4c7f" stroke="#223f74" stroke-width="0.6"/>
<path d="M87.8 574L87.8 571" stroke="#5f9e38" stroke-width="1.1"/>
<path d="M85.7 571.45L89.9 571.45" stroke="#5f9e38" stroke-width="0.9"/>
<rect x="84.1" y="574.3" width="7.4" height="25.3" fill="#72ab4b" stroke="#5f9e38" stroke-width="0.6"/>
<path d="M97.8 554L97.8 551" stroke="#98002a" stroke-width="1.1"/>
<path d="M95.7 551.45L99.9 551.45" stroke="#98002a" stroke-width="0.9"/>
<rect x="94.1" y="554.3" width="7.4" height="45.3" fill="#a6002c" stroke="#98002a" stroke-width="0.6"/>
<path d="M114.5 589.3L114.5 588.6" stroke="#223f74" stroke-width="1.1"/>
<path d="M112.4 589.05L116.6 589.05" stroke="#223f74" stroke-width="0.9"/>
<rect x="110.8" y="589.6" width="7.4" height="10" fill="#2f4c7f" stroke="#223f74" stroke-width="0.6"/>
<path d="M124.5 582L124.5 580" stroke="#5f9e38" stroke-width="1.1"/>
<path d="M122.4 580.45L126.6 580.45" stroke="#5f9e38" stroke-width="0.9"/>
<rect x="120.8" y="582.3" width="7.4" height="17.3" fill="#72ab4b" stroke="#5f9e38" stroke-width="0.6"/>
<path d="M134.8 564.3L134.8 559.5" stroke="#98002a" stroke-width="1.1"/>
<path d="M132.7 559.95L136.9 559.95" stroke="#98002a" stroke-width="0.9"/>
<rect x="131.1" y="564.6" width="7.4" height="35" fill="#a6002c" stroke="#98002a" stroke-width="0.6"/>
<path d="M151.4 560.8L151.4 557.3" stroke="#223f74" stroke-width="1.1"/>
<path d="M149.3 557.75L153.5 557.75" stroke="#223f74" stroke-width="0.9"/>
<rect x="147.8" y="561.1" width="7.2" height="38.5" fill="#2f4c7f" stroke="#223f74" stroke-width="0.6"/>
<path d="M161.4 538L161.4 532" stroke="#5f9e38" stroke-width="1.1"/>
<path d="M159.3 532.45L163.5 532.45" stroke="#5f9e38" stroke-width="0.9"/>
<rect x="157.8" y="538.3" width="7.2" height="61.3" fill="#72ab4b" stroke="#5f9e38" stroke-width="0.6"/>
<path d="M171.7 525L171.7 512" stroke="#98002a" stroke-width="1.1"/>
<path d="M169.6 512.45L173.8 512.45" stroke="#98002a" stroke-width="0.9"/>
<rect x="168.1" y="525.3" width="7.2" height="74.3" fill="#a6002c" stroke="#98002a" stroke-width="0.6"/>
<path d="M70.8 488.8L70.8 600.2" stroke="#1a1a1a" stroke-width="1.2"/>
<path d="M70.2 599.6L178.2 599.6" stroke="#1a1a1a" stroke-width="1.2"/>
<path d="M87.6 599.6L87.6 602.2" stroke="#1a1a1a" stroke-width="1"/>
<path d="M124.6 599.6L124.6 602.2" stroke="#1a1a1a" stroke-width="1"/>
<path d="M159.6 599.6L159.6 602.2" stroke="#1a1a1a" stroke-width="1"/>
<path d="M78.3 518.8L78.3 503.8L101.5 503.8L101.5 507" stroke="#1a1a1a" stroke-width="1" fill="none"/>
<path d="M86.45 498.15L86.91 499.07L87.92 499.22L87.19 499.94L87.36 500.95L86.45 500.47L85.54 500.95L85.71 499.94L84.98 499.22L85.99 499.07Z" fill="#1a1a1a"/>
<path d="M90 498.15L90.46 499.07L91.47 499.22L90.74 499.94L90.91 500.95L90 500.47L89.09 500.95L89.26 499.94L88.53 499.22L89.54 499.07Z" fill="#1a1a1a"/>
<path d="M93.55 498.15L94.01 499.07L95.02 499.22L94.29 499.94L94.46 500.95L93.55 500.47L92.64 500.95L92.81 499.94L92.08 499.22L93.09 499.07Z" fill="#1a1a1a"/>
<path d="M114.3 518.8L114.3 503.8L137.5 503.8L137.5 507" stroke="#1a1a1a" stroke-width="1" fill="none"/>
<path d="M122.25 498.15L122.71 499.07L123.72 499.22L122.99 499.94L123.16 500.95L122.25 500.47L121.34 500.95L121.51 499.94L120.78 499.22L121.79 499.07Z" fill="#1a1a1a"/>
<path d="M125.8 498.15L126.26 499.07L127.27 499.22L126.54 499.94L126.71 500.95L125.8 500.47L124.89 500.95L125.06 499.94L124.33 499.22L125.34 499.07Z" fill="#1a1a1a"/>
<path d="M129.35 498.15L129.81 499.07L130.82 499.22L130.09 499.94L130.26 500.95L129.35 500.47L128.44 500.95L128.61 499.94L127.88 499.22L128.89 499.07Z" fill="#1a1a1a"/>
<path d="M113.8 530L113.8 525L124.8 525L124.8 530" stroke="#1a1a1a" stroke-width="1" fill="none"/>
<path d="M117.52 519.35L117.98 520.27L119 520.42L118.26 521.14L118.44 522.15L117.52 521.67L116.61 522.15L116.79 521.14L116.05 520.42L117.07 520.27Z" fill="#1a1a1a"/>
<path d="M121.08 519.35L121.53 520.27L122.55 520.42L121.81 521.14L121.99 522.15L121.08 521.67L120.16 522.15L120.34 521.14L119.6 520.42L120.62 520.27Z" fill="#1a1a1a"/>
<path d="M151 518.8L151 503.8L172.5 503.8L172.5 507" stroke="#1a1a1a" stroke-width="1" fill="none"/>
<path d="M160.03 498.15L160.48 499.07L161.5 499.22L160.76 499.94L160.94 500.95L160.03 500.47L159.11 500.95L159.29 499.94L158.55 499.22L159.57 499.07Z" fill="#1a1a1a"/>
<path d="M163.58 498.15L164.03 499.07L165.05 499.22L164.31 499.94L164.49 500.95L163.58 500.47L162.66 500.95L162.84 499.94L162.1 499.22L163.12 499.07Z" fill="#1a1a1a"/>
<path d="M151 530L151 525L162.5 525L162.5 530" stroke="#1a1a1a" stroke-width="1" fill="none"/>
<path d="M155.03 519.35L155.48 520.27L156.5 520.42L155.76 521.14L155.94 522.15L155.03 521.67L154.11 522.15L154.29 521.14L153.55 520.42L154.57 520.27Z" fill="#1a1a1a"/>
<path d="M158.58 519.35L159.03 520.27L160.05 520.42L159.31 521.14L159.49 522.15L158.58 521.67L157.66 522.15L157.84 521.14L157.1 520.42L158.12 520.27Z" fill="#1a1a1a"/>
<text transform="translate(69.1 636.6) rotate(-45)" x="0" y="0" font-size="8.6" text-anchor="middle" textLength="68.5" lengthAdjust="spacingAndGlyphs">Immature Myeloid</text>
<text transform="translate(76.7 645.5) rotate(-45)" x="0" y="0" font-size="8.6" text-anchor="middle" textLength="61" lengthAdjust="spacingAndGlyphs">(Cd11b+Ly6Glo)</text>
<text transform="translate(109.1 625.1) rotate(-45)" x="0" y="0" font-size="8.6" text-anchor="middle" textLength="41" lengthAdjust="spacingAndGlyphs">Monocytes</text>
<text transform="translate(117.1 633.5) rotate(-45)" x="0" y="0" font-size="8.6" text-anchor="middle" textLength="57" lengthAdjust="spacingAndGlyphs">(Cd11b+Ly6G-)</text>
<text transform="translate(144.1 628.2) rotate(-45)" x="0" y="0" font-size="8.6" text-anchor="middle" textLength="48.5" lengthAdjust="spacingAndGlyphs">Granulocytes</text>
<text transform="translate(151.6 636.2) rotate(-45)" x="0" y="0" font-size="8.6" text-anchor="middle" textLength="62" lengthAdjust="spacingAndGlyphs">(Cd11b+Ly6GHi)</text>
<rect x="188.3" y="628.3" width="9.2" height="5.2" fill="#2f4c7f"/>
<text x="200.9" y="633.6" font-size="8.2" textLength="31.5" lengthAdjust="spacingAndGlyphs">Snail1 +/+</text>
<rect x="188.3" y="639.6" width="9.2" height="5.2" fill="#72ab4b"/>
<text x="200.9" y="644.9" font-size="8.2" textLength="33.5" lengthAdjust="spacingAndGlyphs">Snail1 tg/+</text>
<rect x="188.3" y="651.3" width="9.2" height="5.2" fill="#a6002c"/>
<text x="200.9" y="656.6" font-size="8.2" textLength="39" lengthAdjust="spacingAndGlyphs">Snail1 tg/tg</text>
<path d="M208.2 51L208.2 104.5" stroke="#222" stroke-width="1.1"/>
<path d="M208.2 45L205 52.6L211.4 52.6z" fill="#111"/>
<text transform="translate(211.1 108.5) rotate(-90)" x="0" y="0" font-size="10.2" text-anchor="end" textLength="13.3" lengthAdjust="spacingAndGlyphs">cKIT</text>
<path d="M242.8 131.3L499 131.3" stroke="#333" stroke-width="1.2"/>
<path d="M505.5 131.3L497.5 128.1L497.5 134.5z" fill="#111"/>
<text x="237.6" y="134" font-size="10" text-anchor="end" textLength="18" lengthAdjust="spacingAndGlyphs">SCA1</text>
<text x="270.7" y="35.3" font-size="6.6" text-anchor="middle">Snail1 +/+</text>
<text x="224.8" y="49.3" font-size="8" text-anchor="end">10</text>
<text x="224.8" y="45.7" font-size="5.6">5</text>
<text x="224.8" y="63.7" font-size="8" text-anchor="end">10</text>
<text x="224.8" y="60.1" font-size="5.6">4</text>
<text x="224.8" y="78.6" font-size="8" text-anchor="end">10</text>
<text x="224.8" y="75" font-size="5.6">3</text>
<text x="227.7" y="101.2" font-size="8" text-anchor="end">0</text>
<text x="245.2" y="126.1" font-size="8" text-anchor="middle">0</text>
<text x="264.4" y="126.1" font-size="8">10</text>
<text x="273.1" y="122.5" font-size="5.6">3</text>
<text x="282.9" y="126.1" font-size="8">10</text>
<text x="291.6" y="122.5" font-size="5.6">4</text>
<text x="296.7" y="126.1" font-size="8">10</text>
<text x="305.4" y="122.5" font-size="5.6">5</text>
<path d="M234.5 46.6h-2.4M234.5 61h-2.4M234.5 75.9h-2.4M234.5 98.5h-2.4M234.5 56.67h-1.5M234.5 54.13h-1.5M234.5 52.33h-1.5M234.5 50.93h-1.5M234.5 49.79h-1.5M234.5 48.83h-1.5M234.5 48h-1.5M234.5 47.26h-1.5M234.5 71.41h-1.5M234.5 68.79h-1.5M234.5 66.93h-1.5M234.5 65.49h-1.5M234.5 64.31h-1.5M234.5 63.31h-1.5M234.5 62.44h-1.5M234.5 61.68h-1.5M234.5 42.27h-1.5M234.5 93.1h-1.8M234.5 93.7h-2.4M234.5 94.3h-1.8M234.5 94.9h-2.4M234.5 95.5h-1.8M234.5 96.1h-2.4M234.5 96.7h-1.8M234.5 97.3h-2.4M234.5 97.9h-1.8M234.5 98.5h-2.4M234.5 99.1h-1.8M234.5 99.7h-2.4M234.5 100.3h-1.8M234.5 100.9h-2.4M234.5 101.5h-1.8M234.5 102.1h-2.4M234.5 102.7h-1.8M234.5 103.3h-2.4M234.5 103.9h-1.8M234.5 93.98h-1.5M234.5 89.46h-1.5M234.5 84.94h-1.5M234.5 80.42h-1.5M234.5 107.5h-1.5M234.5 110.5h-1.5M245.2 112.9v2.4M266.9 112.9v2.4M285.4 112.9v2.4M299.2 112.9v2.4M272.47 112.9v1.5M275.73 112.9v1.5M278.04 112.9v1.5M279.83 112.9v1.5M281.3 112.9v1.5M282.53 112.9v1.5M283.61 112.9v1.5M284.55 112.9v1.5M289.55 112.9v1.5M291.98 112.9v1.5M293.71 112.9v1.5M295.05 112.9v1.5M296.14 112.9v1.5M297.06 112.9v1.5M297.86 112.9v1.5M298.57 112.9v1.5M303.35 112.9v1.5M305.78 112.9v1.5M239.2 112.9v2.4M239.8 112.9v1.8M240.4 112.9v2.4M241 112.9v1.8M241.6 112.9v2.4M242.2 112.9v1.8M242.8 112.9v2.4M243.4 112.9v1.8M244 112.9v2.4M244.6 112.9v1.8M245.2 112.9v2.4M245.8 112.9v1.8M246.4 112.9v2.4M247 112.9v1.8M247.6 112.9v2.4M248.2 112.9v1.8M248.8 112.9v2.4M249.4 112.9v1.8M250 112.9v2.4M250.6 112.9v1.8M251.2 112.9v2.4M249.54 112.9v1.5M253.88 112.9v1.5M258.22 112.9v1.5M262.56 112.9v1.5M236.7 112.9v1.5" stroke="#000" stroke-width="0.8" fill="none"/>
<text x="371.5" y="35.3" font-size="6.6" text-anchor="middle">Snail1 tg/+</text>
<text x="325.6" y="49.3" font-size="8" text-anchor="end">10</text>
<text x="325.6" y="45.7" font-size="5.6">5</text>
<text x="325.6" y="63.7" font-size="8" text-anchor="end">10</text>
<text x="325.6" y="60.1" font-size="5.6">4</text>
<text x="325.6" y="78.6" font-size="8" text-anchor="end">10</text>
<text x="325.6" y="75" font-size="5.6">3</text>
<text x="328.5" y="101.2" font-size="8" text-anchor="end">0</text>
<text x="346" y="126.1" font-size="8" text-anchor="middle">0</text>
<text x="365.2" y="126.1" font-size="8">10</text>
<text x="373.9" y="122.5" font-size="5.6">3</text>
<text x="383.7" y="126.1" font-size="8">10</text>
<text x="392.4" y="122.5" font-size="5.6">4</text>
<text x="397.5" y="126.1" font-size="8">10</text>
<text x="406.2" y="122.5" font-size="5.6">5</text>
<path d="M335.3 46.6h-2.4M335.3 61h-2.4M335.3 75.9h-2.4M335.3 98.5h-2.4M335.3 56.67h-1.5M335.3 54.13h-1.5M335.3 52.33h-1.5M335.3 50.93h-1.5M335.3 49.79h-1.5M335.3 48.83h-1.5M335.3 48h-1.5M335.3 47.26h-1.5M335.3 71.41h-1.5M335.3 68.79h-1.5M335.3 66.93h-1.5M335.3 65.49h-1.5M335.3 64.31h-1.5M335.3 63.31h-1.5M335.3 62.44h-1.5M335.3 61.68h-1.5M335.3 42.27h-1.5M335.3 93.1h-1.8M335.3 93.7h-2.4M335.3 94.3h-1.8M335.3 94.9h-2.4M335.3 95.5h-1.8M335.3 96.1h-2.4M335.3 96.7h-1.8M335.3 97.3h-2.4M335.3 97.9h-1.8M335.3 98.5h-2.4M335.3 99.1h-1.8M335.3 99.7h-2.4M335.3 100.3h-1.8M335.3 100.9h-2.4M335.3 101.5h-1.8M335.3 102.1h-2.4M335.3 102.7h-1.8M335.3 103.3h-2.4M335.3 103.9h-1.8M335.3 93.98h-1.5M335.3 89.46h-1.5M335.3 84.94h-1.5M335.3 80.42h-1.5M335.3 107.5h-1.5M335.3 110.5h-1.5M346 112.9v2.4M367.7 112.9v2.4M386.2 112.9v2.4M400 112.9v2.4M373.27 112.9v1.5M376.53 112.9v1.5M378.84 112.9v1.5M380.63 112.9v1.5M382.1 112.9v1.5M383.33 112.9v1.5M384.41 112.9v1.5M385.35 112.9v1.5M390.35 112.9v1.5M392.78 112.9v1.5M394.51 112.9v1.5M395.85 112.9v1.5M396.94 112.9v1.5M397.86 112.9v1.5M398.66 112.9v1.5M399.37 112.9v1.5M404.15 112.9v1.5M406.58 112.9v1.5M340 112.9v2.4M340.6 112.9v1.8M341.2 112.9v2.4M341.8 112.9v1.8M342.4 112.9v2.4M343 112.9v1.8M343.6 112.9v2.4M344.2 112.9v1.8M344.8 112.9v2.4M345.4 112.9v1.8M346 112.9v2.4M346.6 112.9v1.8M347.2 112.9v2.4M347.8 112.9v1.8M348.4 112.9v2.4M349 112.9v1.8M349.6 112.9v2.4M350.2 112.9v1.8M350.8 112.9v2.4M351.4 112.9v1.8M352 112.9v2.4M350.34 112.9v1.5M354.68 112.9v1.5M359.02 112.9v1.5M363.36 112.9v1.5M337.5 112.9v1.5" stroke="#000" stroke-width="0.8" fill="none"/>
<text x="471.9" y="35.3" font-size="6.6" text-anchor="middle">Snail1 tg/tg</text>
<text x="426" y="49.3" font-size="8" text-anchor="end">10</text>
<text x="426" y="45.7" font-size="5.6">5</text>
<text x="426" y="63.7" font-size="8" text-anchor="end">10</text>
<text x="426" y="60.1" font-size="5.6">4</text>
<text x="426" y="78.6" font-size="8" text-anchor="end">10</text>
<text x="426" y="75" font-size="5.6">3</text>
<text x="428.9" y="101.2" font-size="8" text-anchor="end">0</text>
<text x="446.4" y="126.1" font-size="8" text-anchor="middle">0</text>
<text x="465.6" y="126.1" font-size="8">10</text>
<text x="474.3" y="122.5" font-size="5.6">3</text>
<text x="484.1" y="126.1" font-size="8">10</text>
<text x="492.8" y="122.5" font-size="5.6">4</text>
<text x="497.9" y="126.1" font-size="8">10</text>
<text x="506.6" y="122.5" font-size="5.6">5</text>
<path d="M435.7 46.6h-2.4M435.7 61h-2.4M435.7 75.9h-2.4M435.7 98.5h-2.4M435.7 56.67h-1.5M435.7 54.13h-1.5M435.7 52.33h-1.5M435.7 50.93h-1.5M435.7 49.79h-1.5M435.7 48.83h-1.5M435.7 48h-1.5M435.7 47.26h-1.5M435.7 71.41h-1.5M435.7 68.79h-1.5M435.7 66.93h-1.5M435.7 65.49h-1.5M435.7 64.31h-1.5M435.7 63.31h-1.5M435.7 62.44h-1.5M435.7 61.68h-1.5M435.7 42.27h-1.5M435.7 93.1h-1.8M435.7 93.7h-2.4M435.7 94.3h-1.8M435.7 94.9h-2.4M435.7 95.5h-1.8M435.7 96.1h-2.4M435.7 96.7h-1.8M435.7 97.3h-2.4M435.7 97.9h-1.8M435.7 98.5h-2.4M435.7 99.1h-1.8M435.7 99.7h-2.4M435.7 100.3h-1.8M435.7 100.9h-2.4M435.7 101.5h-1.8M435.7 102.1h-2.4M435.7 102.7h-1.8M435.7 103.3h-2.4M435.7 103.9h-1.8M435.7 93.98h-1.5M435.7 89.46h-1.5M435.7 84.94h-1.5M435.7 80.42h-1.5M435.7 107.5h-1.5M435.7 110.5h-1.5M446.4 112.9v2.4M468.1 112.9v2.4M486.6 112.9v2.4M500.4 112.9v2.4M473.67 112.9v1.5M476.93 112.9v1.5M479.24 112.9v1.5M481.03 112.9v1.5M482.5 112.9v1.5M483.73 112.9v1.5M484.81 112.9v1.5M485.75 112.9v1.5M490.75 112.9v1.5M493.18 112.9v1.5M494.91 112.9v1.5M496.25 112.9v1.5M497.34 112.9v1.5M498.26 112.9v1.5M499.06 112.9v1.5M499.77 112.9v1.5M504.55 112.9v1.5M506.98 112.9v1.5M440.4 112.9v2.4M441 112.9v1.8M441.6 112.9v2.4M442.2 112.9v1.8M442.8 112.9v2.4M443.4 112.9v1.8M444 112.9v2.4M444.6 112.9v1.8M445.2 112.9v2.4M445.8 112.9v1.8M446.4 112.9v2.4M447 112.9v1.8M447.6 112.9v2.4M448.2 112.9v1.8M448.8 112.9v2.4M449.4 112.9v1.8M450 112.9v2.4M450.6 112.9v1.8M451.2 112.9v2.4M451.8 112.9v1.8M452.4 112.9v2.4M450.74 112.9v1.5M455.08 112.9v1.5M459.42 112.9v1.5M463.76 112.9v1.5M437.9 112.9v1.5" stroke="#000" stroke-width="0.8" fill="none"/>
<path d="M208.2 208.3L208.2 251.6" stroke="#222" stroke-width="1.1"/>
<path d="M208.2 202.3L205 209.9L211.4 209.9z" fill="#111"/>
<text transform="translate(211.1 254.9) rotate(-90)" x="0" y="0" font-size="10.2" text-anchor="end" textLength="24" lengthAdjust="spacingAndGlyphs">CD135</text>
<path d="M242.8 291.3L499 291.3" stroke="#333" stroke-width="1.2"/>
<path d="M505.5 291.3L497.5 288.1L497.5 294.5z" fill="#111"/>
<text x="239.2" y="294" font-size="10" text-anchor="end" textLength="19" lengthAdjust="spacingAndGlyphs">CD34</text>
<text x="270.1" y="191.5" font-size="6.6" text-anchor="middle">Snail1 +/+</text>
<text x="224.7" y="205.7" font-size="8" text-anchor="end">10</text>
<text x="224.7" y="202.1" font-size="5.6">5</text>
<text x="224.7" y="223" font-size="8" text-anchor="end">10</text>
<text x="224.7" y="219.4" font-size="5.6">4</text>
<text x="224.7" y="242.3" font-size="8" text-anchor="end">10</text>
<text x="224.7" y="238.7" font-size="5.6">3</text>
<text x="227.6" y="254.3" font-size="8" text-anchor="end">0</text>
<text x="247.3" y="281.3" font-size="8" text-anchor="middle">0</text>
<text x="258.2" y="281.3" font-size="8">10</text>
<text x="266.9" y="277.7" font-size="5.6">3</text>
<text x="276.7" y="281.3" font-size="8">10</text>
<text x="285.4" y="277.7" font-size="5.6">4</text>
<text x="292.9" y="281.3" font-size="8">10</text>
<text x="301.6" y="277.7" font-size="5.6">5</text>
<path d="M234.4 203h-2.4M234.4 220.3h-2.4M234.4 239.6h-2.4M234.4 251.6h-2.4M234.4 215.09h-1.5M234.4 212.05h-1.5M234.4 209.88h-1.5M234.4 208.21h-1.5M234.4 206.84h-1.5M234.4 205.68h-1.5M234.4 204.68h-1.5M234.4 203.79h-1.5M234.4 233.79h-1.5M234.4 230.39h-1.5M234.4 227.98h-1.5M234.4 226.11h-1.5M234.4 224.58h-1.5M234.4 223.29h-1.5M234.4 222.17h-1.5M234.4 221.18h-1.5M234.4 197.79h-1.5M234.4 246.2h-1.8M234.4 246.8h-2.4M234.4 247.4h-1.8M234.4 248h-2.4M234.4 248.6h-1.8M234.4 249.2h-2.4M234.4 249.8h-1.8M234.4 250.4h-2.4M234.4 251h-1.8M234.4 251.6h-2.4M234.4 252.2h-1.8M234.4 252.8h-2.4M234.4 253.4h-1.8M234.4 254h-2.4M234.4 254.6h-1.8M234.4 255.2h-2.4M234.4 255.8h-1.8M234.4 256.4h-2.4M234.4 257h-1.8M234.4 249.2h-1.5M234.4 246.8h-1.5M234.4 244.4h-1.5M234.4 242h-1.5M234.4 260.6h-1.5M234.4 263.6h-1.5M234.4 266.6h-1.5M247.3 268v2.4M260.7 268v2.4M279.2 268v2.4M295.4 268v2.4M266.27 268v1.5M269.53 268v1.5M271.84 268v1.5M273.63 268v1.5M275.1 268v1.5M276.33 268v1.5M277.41 268v1.5M278.35 268v1.5M284.08 268v1.5M286.93 268v1.5M288.95 268v1.5M290.52 268v1.5M291.81 268v1.5M292.89 268v1.5M293.83 268v1.5M294.66 268v1.5M300.28 268v1.5M303.13 268v1.5M241.3 268v2.4M241.9 268v1.8M242.5 268v2.4M243.1 268v1.8M243.7 268v2.4M244.3 268v1.8M244.9 268v2.4M245.5 268v1.8M246.1 268v2.4M246.7 268v1.8M247.3 268v2.4M247.9 268v1.8M248.5 268v2.4M249.1 268v1.8M249.7 268v2.4M250.3 268v1.8M250.9 268v2.4M251.5 268v1.8M252.1 268v2.4M252.7 268v1.8M253.3 268v2.4M249.98 268v1.5M252.66 268v1.5M255.34 268v1.5M258.02 268v1.5M238.8 268v1.5M236.3 268v1.5" stroke="#000" stroke-width="0.8" fill="none"/>
<text x="371.3" y="191.5" font-size="6.6" text-anchor="middle">Snail1 tg/+</text>
<text x="325.9" y="205.7" font-size="8" text-anchor="end">10</text>
<text x="325.9" y="202.1" font-size="5.6">5</text>
<text x="325.9" y="223" font-size="8" text-anchor="end">10</text>
<text x="325.9" y="219.4" font-size="5.6">4</text>
<text x="325.9" y="242.3" font-size="8" text-anchor="end">10</text>
<text x="325.9" y="238.7" font-size="5.6">3</text>
<text x="328.8" y="254.3" font-size="8" text-anchor="end">0</text>
<text x="348.5" y="281.3" font-size="8" text-anchor="middle">0</text>
<text x="359.4" y="281.3" font-size="8">10</text>
<text x="368.1" y="277.7" font-size="5.6">3</text>
<text x="377.9" y="281.3" font-size="8">10</text>
<text x="386.6" y="277.7" font-size="5.6">4</text>
<text x="394.1" y="281.3" font-size="8">10</text>
<text x="402.8" y="277.7" font-size="5.6">5</text>
<path d="M335.6 203h-2.4M335.6 220.3h-2.4M335.6 239.6h-2.4M335.6 251.6h-2.4M335.6 215.09h-1.5M335.6 212.05h-1.5M335.6 209.88h-1.5M335.6 208.21h-1.5M335.6 206.84h-1.5M335.6 205.68h-1.5M335.6 204.68h-1.5M335.6 203.79h-1.5M335.6 233.79h-1.5M335.6 230.39h-1.5M335.6 227.98h-1.5M335.6 226.11h-1.5M335.6 224.58h-1.5M335.6 223.29h-1.5M335.6 222.17h-1.5M335.6 221.18h-1.5M335.6 197.79h-1.5M335.6 246.2h-1.8M335.6 246.8h-2.4M335.6 247.4h-1.8M335.6 248h-2.4M335.6 248.6h-1.8M335.6 249.2h-2.4M335.6 249.8h-1.8M335.6 250.4h-2.4M335.6 251h-1.8M335.6 251.6h-2.4M335.6 252.2h-1.8M335.6 252.8h-2.4M335.6 253.4h-1.8M335.6 254h-2.4M335.6 254.6h-1.8M335.6 255.2h-2.4M335.6 255.8h-1.8M335.6 256.4h-2.4M335.6 257h-1.8M335.6 249.2h-1.5M335.6 246.8h-1.5M335.6 244.4h-1.5M335.6 242h-1.5M335.6 260.6h-1.5M335.6 263.6h-1.5M335.6 266.6h-1.5M348.5 268v2.4M361.9 268v2.4M380.4 268v2.4M396.6 268v2.4M367.47 268v1.5M370.73 268v1.5M373.04 268v1.5M374.83 268v1.5M376.3 268v1.5M377.53 268v1.5M378.61 268v1.5M379.55 268v1.5M385.28 268v1.5M388.13 268v1.5M390.15 268v1.5M391.72 268v1.5M393.01 268v1.5M394.09 268v1.5M395.03 268v1.5M395.86 268v1.5M401.48 268v1.5M404.33 268v1.5M342.5 268v2.4M343.1 268v1.8M343.7 268v2.4M344.3 268v1.8M344.9 268v2.4M345.5 268v1.8M346.1 268v2.4M346.7 268v1.8M347.3 268v2.4M347.9 268v1.8M348.5 268v2.4M349.1 268v1.8M349.7 268v2.4M350.3 268v1.8M350.9 268v2.4M351.5 268v1.8M352.1 268v2.4M352.7 268v1.8M353.3 268v2.4M353.9 268v1.8M354.5 268v2.4M351.18 268v1.5M353.86 268v1.5M356.54 268v1.5M359.22 268v1.5M340 268v1.5M337.5 268v1.5" stroke="#000" stroke-width="0.8" fill="none"/>
<text x="471.4" y="191.5" font-size="6.6" text-anchor="middle">Snail1 tg/tg</text>
<text x="426" y="205.7" font-size="8" text-anchor="end">10</text>
<text x="426" y="202.1" font-size="5.6">5</text>
<text x="426" y="223" font-size="8" text-anchor="end">10</text>
<text x="426" y="219.4" font-size="5.6">4</text>
<text x="426" y="242.3" font-size="8" text-anchor="end">10</text>
<text x="426" y="238.7" font-size="5.6">3</text>
<text x="428.9" y="254.3" font-size="8" text-anchor="end">0</text>
<text x="448.6" y="281.3" font-size="8" text-anchor="middle">0</text>
<text x="459.5" y="281.3" font-size="8">10</text>
<text x="468.2" y="277.7" font-size="5.6">3</text>
<text x="478" y="281.3" font-size="8">10</text>
<text x="486.7" y="277.7" font-size="5.6">4</text>
<text x="494.2" y="281.3" font-size="8">10</text>
<text x="502.9" y="277.7" font-size="5.6">5</text>
<path d="M435.7 203h-2.4M435.7 220.3h-2.4M435.7 239.6h-2.4M435.7 251.6h-2.4M435.7 215.09h-1.5M435.7 212.05h-1.5M435.7 209.88h-1.5M435.7 208.21h-1.5M435.7 206.84h-1.5M435.7 205.68h-1.5M435.7 204.68h-1.5M435.7 203.79h-1.5M435.7 233.79h-1.5M435.7 230.39h-1.5M435.7 227.98h-1.5M435.7 226.11h-1.5M435.7 224.58h-1.5M435.7 223.29h-1.5M435.7 222.17h-1.5M435.7 221.18h-1.5M435.7 197.79h-1.5M435.7 246.2h-1.8M435.7 246.8h-2.4M435.7 247.4h-1.8M435.7 248h-2.4M435.7 248.6h-1.8M435.7 249.2h-2.4M435.7 249.8h-1.8M435.7 250.4h-2.4M435.7 251h-1.8M435.7 251.6h-2.4M435.7 252.2h-1.8M435.7 252.8h-2.4M435.7 253.4h-1.8M435.7 254h-2.4M435.7 254.6h-1.8M435.7 255.2h-2.4M435.7 255.8h-1.8M435.7 256.4h-2.4M435.7 257h-1.8M435.7 249.2h-1.5M435.7 246.8h-1.5M435.7 244.4h-1.5M435.7 242h-1.5M435.7 260.6h-1.5M435.7 263.6h-1.5M435.7 266.6h-1.5M448.6 268v2.4M462 268v2.4M480.5 268v2.4M496.7 268v2.4M467.57 268v1.5M470.83 268v1.5M473.14 268v1.5M474.93 268v1.5M476.4 268v1.5M477.63 268v1.5M478.71 268v1.5M479.65 268v1.5M485.38 268v1.5M488.23 268v1.5M490.25 268v1.5M491.82 268v1.5M493.11 268v1.5M494.19 268v1.5M495.13 268v1.5M495.96 268v1.5M501.58 268v1.5M504.43 268v1.5M442.6 268v2.4M443.2 268v1.8M443.8 268v2.4M444.4 268v1.8M445 268v2.4M445.6 268v1.8M446.2 268v2.4M446.8 268v1.8M447.4 268v2.4M448 268v1.8M448.6 268v2.4M449.2 268v1.8M449.8 268v2.4M450.4 268v1.8M451 268v2.4M451.6 268v1.8M452.2 268v2.4M452.8 268v1.8M453.4 268v2.4M454 268v1.8M454.6 268v2.4M451.28 268v1.5M453.96 268v1.5M456.64 268v1.5M459.32 268v1.5M440.1 268v1.5M437.6 268v1.5" stroke="#000" stroke-width="0.8" fill="none"/>
<path d="M208.2 356L208.2 398.8" stroke="#222" stroke-width="1.1"/>
<path d="M208.2 350L205 357.6L211.4 357.6z" fill="#111"/>
<text transform="translate(211.1 402) rotate(-90)" x="0" y="0" font-size="10.2" text-anchor="end" textLength="28.1" lengthAdjust="spacingAndGlyphs">CD1632</text>
<path d="M242.8 441.2L499 441.2" stroke="#333" stroke-width="1.2"/>
<path d="M505.5 441.2L497.5 438L497.5 444.4z" fill="#111"/>
<text x="239.2" y="443.9" font-size="10" text-anchor="end" textLength="19" lengthAdjust="spacingAndGlyphs">CD34</text>
<text x="270.1" y="341.2" font-size="6.6" text-anchor="middle">Snail1 +/+</text>
<text x="224.7" y="355.5" font-size="8" text-anchor="end">10</text>
<text x="224.7" y="351.9" font-size="5.6">5</text>
<text x="224.7" y="371.8" font-size="8" text-anchor="end">10</text>
<text x="224.7" y="368.2" font-size="5.6">4</text>
<text x="224.7" y="388.7" font-size="8" text-anchor="end">10</text>
<text x="224.7" y="385.1" font-size="5.6">3</text>
<text x="227.6" y="408" font-size="8" text-anchor="end">0</text>
<text x="247.3" y="431.4" font-size="8" text-anchor="middle">0</text>
<text x="258.2" y="431.4" font-size="8">10</text>
<text x="266.9" y="427.8" font-size="5.6">3</text>
<text x="276.7" y="431.4" font-size="8">10</text>
<text x="285.4" y="427.8" font-size="5.6">4</text>
<text x="292.9" y="431.4" font-size="8">10</text>
<text x="301.6" y="427.8" font-size="5.6">5</text>
<path d="M234.4 352.8h-2.4M234.4 369.1h-2.4M234.4 386h-2.4M234.4 405.3h-2.4M234.4 364.19h-1.5M234.4 361.32h-1.5M234.4 359.29h-1.5M234.4 357.71h-1.5M234.4 356.42h-1.5M234.4 355.32h-1.5M234.4 354.38h-1.5M234.4 353.55h-1.5M234.4 380.91h-1.5M234.4 377.94h-1.5M234.4 375.83h-1.5M234.4 374.19h-1.5M234.4 372.85h-1.5M234.4 371.72h-1.5M234.4 370.74h-1.5M234.4 369.87h-1.5M234.4 347.89h-1.5M234.4 399.9h-1.8M234.4 400.5h-2.4M234.4 401.1h-1.8M234.4 401.7h-2.4M234.4 402.3h-1.8M234.4 402.9h-2.4M234.4 403.5h-1.8M234.4 404.1h-2.4M234.4 404.7h-1.8M234.4 405.3h-2.4M234.4 405.9h-1.8M234.4 406.5h-2.4M234.4 407.1h-1.8M234.4 407.7h-2.4M234.4 408.3h-1.8M234.4 408.9h-2.4M234.4 409.5h-1.8M234.4 410.1h-2.4M234.4 410.7h-1.8M234.4 401.44h-1.5M234.4 397.58h-1.5M234.4 393.72h-1.5M234.4 389.86h-1.5M234.4 414.3h-1.5M247.3 418v2.4M260.7 418v2.4M279.2 418v2.4M295.4 418v2.4M266.27 418v1.5M269.53 418v1.5M271.84 418v1.5M273.63 418v1.5M275.1 418v1.5M276.33 418v1.5M277.41 418v1.5M278.35 418v1.5M284.08 418v1.5M286.93 418v1.5M288.95 418v1.5M290.52 418v1.5M291.81 418v1.5M292.89 418v1.5M293.83 418v1.5M294.66 418v1.5M300.28 418v1.5M303.13 418v1.5M241.3 418v2.4M241.9 418v1.8M242.5 418v2.4M243.1 418v1.8M243.7 418v2.4M244.3 418v1.8M244.9 418v2.4M245.5 418v1.8M246.1 418v2.4M246.7 418v1.8M247.3 418v2.4M247.9 418v1.8M248.5 418v2.4M249.1 418v1.8M249.7 418v2.4M250.3 418v1.8M250.9 418v2.4M251.5 418v1.8M252.1 418v2.4M252.7 418v1.8M253.3 418v2.4M249.98 418v1.5M252.66 418v1.5M255.34 418v1.5M258.02 418v1.5M238.8 418v1.5M236.3 418v1.5" stroke="#000" stroke-width="0.8" fill="none"/>
<text x="371.3" y="341.2" font-size="6.6" text-anchor="middle">Snail1 tg/+</text>
<text x="325.9" y="355.5" font-size="8" text-anchor="end">10</text>
<text x="325.9" y="351.9" font-size="5.6">5</text>
<text x="325.9" y="371.8" font-size="8" text-anchor="end">10</text>
<text x="325.9" y="368.2" font-size="5.6">4</text>
<text x="325.9" y="388.7" font-size="8" text-anchor="end">10</text>
<text x="325.9" y="385.1" font-size="5.6">3</text>
<text x="328.8" y="408" font-size="8" text-anchor="end">0</text>
<text x="348.5" y="431.4" font-size="8" text-anchor="middle">0</text>
<text x="359.4" y="431.4" font-size="8">10</text>
<text x="368.1" y="427.8" font-size="5.6">3</text>
<text x="377.9" y="431.4" font-size="8">10</text>
<text x="386.6" y="427.8" font-size="5.6">4</text>
<text x="394.1" y="431.4" font-size="8">10</text>
<text x="402.8" y="427.8" font-size="5.6">5</text>
<path d="M335.6 352.8h-2.4M335.6 369.1h-2.4M335.6 386h-2.4M335.6 405.3h-2.4M335.6 364.19h-1.5M335.6 361.32h-1.5M335.6 359.29h-1.5M335.6 357.71h-1.5M335.6 356.42h-1.5M335.6 355.32h-1.5M335.6 354.38h-1.5M335.6 353.55h-1.5M335.6 380.91h-1.5M335.6 377.94h-1.5M335.6 375.83h-1.5M335.6 374.19h-1.5M335.6 372.85h-1.5M335.6 371.72h-1.5M335.6 370.74h-1.5M335.6 369.87h-1.5M335.6 347.89h-1.5M335.6 399.9h-1.8M335.6 400.5h-2.4M335.6 401.1h-1.8M335.6 401.7h-2.4M335.6 402.3h-1.8M335.6 402.9h-2.4M335.6 403.5h-1.8M335.6 404.1h-2.4M335.6 404.7h-1.8M335.6 405.3h-2.4M335.6 405.9h-1.8M335.6 406.5h-2.4M335.6 407.1h-1.8M335.6 407.7h-2.4M335.6 408.3h-1.8M335.6 408.9h-2.4M335.6 409.5h-1.8M335.6 410.1h-2.4M335.6 410.7h-1.8M335.6 401.44h-1.5M335.6 397.58h-1.5M335.6 393.72h-1.5M335.6 389.86h-1.5M335.6 414.3h-1.5M348.5 418v2.4M361.9 418v2.4M380.4 418v2.4M396.6 418v2.4M367.47 418v1.5M370.73 418v1.5M373.04 418v1.5M374.83 418v1.5M376.3 418v1.5M377.53 418v1.5M378.61 418v1.5M379.55 418v1.5M385.28 418v1.5M388.13 418v1.5M390.15 418v1.5M391.72 418v1.5M393.01 418v1.5M394.09 418v1.5M395.03 418v1.5M395.86 418v1.5M401.48 418v1.5M404.33 418v1.5M342.5 418v2.4M343.1 418v1.8M343.7 418v2.4M344.3 418v1.8M344.9 418v2.4M345.5 418v1.8M346.1 418v2.4M346.7 418v1.8M347.3 418v2.4M347.9 418v1.8M348.5 418v2.4M349.1 418v1.8M349.7 418v2.4M350.3 418v1.8M350.9 418v2.4M351.5 418v1.8M352.1 418v2.4M352.7 418v1.8M353.3 418v2.4M353.9 418v1.8M354.5 418v2.4M351.18 418v1.5M353.86 418v1.5M356.54 418v1.5M359.22 418v1.5M340 418v1.5M337.5 418v1.5" stroke="#000" stroke-width="0.8" fill="none"/>
<text x="471.4" y="341.2" font-size="6.6" text-anchor="middle">Snail1 tg/tg</text>
<text x="426" y="355.5" font-size="8" text-anchor="end">10</text>
<text x="426" y="351.9" font-size="5.6">5</text>
<text x="426" y="371.8" font-size="8" text-anchor="end">10</text>
<text x="426" y="368.2" font-size="5.6">4</text>
<text x="426" y="388.7" font-size="8" text-anchor="end">10</text>
<text x="426" y="385.1" font-size="5.6">3</text>
<text x="428.9" y="408" font-size="8" text-anchor="end">0</text>
<text x="448.6" y="431.4" font-size="8" text-anchor="middle">0</text>
<text x="459.5" y="431.4" font-size="8">10</text>
<text x="468.2" y="427.8" font-size="5.6">3</text>
<text x="478" y="431.4" font-size="8">10</text>
<text x="486.7" y="427.8" font-size="5.6">4</text>
<text x="494.2" y="431.4" font-size="8">10</text>
<text x="502.9" y="427.8" font-size="5.6">5</text>
<path d="M435.7 352.8h-2.4M435.7 369.1h-2.4M435.7 386h-2.4M435.7 405.3h-2.4M435.7 364.19h-1.5M435.7 361.32h-1.5M435.7 359.29h-1.5M435.7 357.71h-1.5M435.7 356.42h-1.5M435.7 355.32h-1.5M435.7 354.38h-1.5M435.7 353.55h-1.5M435.7 380.91h-1.5M435.7 377.94h-1.5M435.7 375.83h-1.5M435.7 374.19h-1.5M435.7 372.85h-1.5M435.7 371.72h-1.5M435.7 370.74h-1.5M435.7 369.87h-1.5M435.7 347.89h-1.5M435.7 399.9h-1.8M435.7 400.5h-2.4M435.7 401.1h-1.8M435.7 401.7h-2.4M435.7 402.3h-1.8M435.7 402.9h-2.4M435.7 403.5h-1.8M435.7 404.1h-2.4M435.7 404.7h-1.8M435.7 405.3h-2.4M435.7 405.9h-1.8M435.7 406.5h-2.4M435.7 407.1h-1.8M435.7 407.7h-2.4M435.7 408.3h-1.8M435.7 408.9h-2.4M435.7 409.5h-1.8M435.7 410.1h-2.4M435.7 410.7h-1.8M435.7 401.44h-1.5M435.7 397.58h-1.5M435.7 393.72h-1.5M435.7 389.86h-1.5M435.7 414.3h-1.5M448.6 418v2.4M462 418v2.4M480.5 418v2.4M496.7 418v2.4M467.57 418v1.5M470.83 418v1.5M473.14 418v1.5M474.93 418v1.5M476.4 418v1.5M477.63 418v1.5M478.71 418v1.5M479.65 418v1.5M485.38 418v1.5M488.23 418v1.5M490.25 418v1.5M491.82 418v1.5M493.11 418v1.5M494.19 418v1.5M495.13 418v1.5M495.96 418v1.5M501.58 418v1.5M504.43 418v1.5M442.6 418v2.4M443.2 418v1.8M443.8 418v2.4M444.4 418v1.8M445 418v2.4M445.6 418v1.8M446.2 418v2.4M446.8 418v1.8M447.4 418v2.4M448 418v1.8M448.6 418v2.4M449.2 418v1.8M449.8 418v2.4M450.4 418v1.8M451 418v2.4M451.6 418v1.8M452.2 418v2.4M452.8 418v1.8M453.4 418v2.4M454 418v1.8M454.6 418v2.4M451.28 418v1.5M453.96 418v1.5M456.64 418v1.5M459.32 418v1.5M440.1 418v1.5M437.6 418v1.5" stroke="#000" stroke-width="0.8" fill="none"/>
<path d="M208.2 523.4L208.2 566.5" stroke="#222" stroke-width="1.1"/>
<path d="M208.2 517.4L205 525L211.4 525z" fill="#111"/>
<text transform="translate(211.1 569.4) rotate(-90)" x="0" y="0" font-size="10.2" text-anchor="end" textLength="25.1" lengthAdjust="spacingAndGlyphs">CD11b</text>
<path d="M242.8 602.6L499 602.6" stroke="#333" stroke-width="1.2"/>
<path d="M505.5 602.6L497.5 599.4L497.5 605.8z" fill="#111"/>
<text x="238.8" y="605.3" font-size="10" text-anchor="end" textLength="16.3" lengthAdjust="spacingAndGlyphs">Ly6G</text>
<text x="270.5" y="501.8" font-size="6.6" text-anchor="middle">Snail1 +/+</text>
<text x="224.8" y="515.5" font-size="8" text-anchor="end">10</text>
<text x="224.8" y="511.9" font-size="5.6">5</text>
<text x="224.8" y="532.8" font-size="8" text-anchor="end">10</text>
<text x="224.8" y="529.2" font-size="5.6">4</text>
<text x="224.8" y="550.2" font-size="8" text-anchor="end">10</text>
<text x="224.8" y="546.6" font-size="5.6">3</text>
<text x="227.7" y="575" font-size="8" text-anchor="end">0</text>
<text x="245.3" y="592.7" font-size="8" text-anchor="middle">0</text>
<text x="259" y="592.7" font-size="8">10</text>
<text x="267.7" y="589.1" font-size="5.6">3</text>
<text x="276.7" y="592.7" font-size="8">10</text>
<text x="285.4" y="589.1" font-size="5.6">4</text>
<text x="292.6" y="592.7" font-size="8">10</text>
<text x="301.3" y="589.1" font-size="5.6">5</text>
<path d="M234.5 512.8h-2.4M234.5 530.1h-2.4M234.5 547.5h-2.4M234.5 572.3h-2.4M234.5 524.89h-1.5M234.5 521.85h-1.5M234.5 519.68h-1.5M234.5 518.01h-1.5M234.5 516.64h-1.5M234.5 515.48h-1.5M234.5 514.48h-1.5M234.5 513.59h-1.5M234.5 542.26h-1.5M234.5 539.2h-1.5M234.5 537.02h-1.5M234.5 535.34h-1.5M234.5 533.96h-1.5M234.5 532.8h-1.5M234.5 531.79h-1.5M234.5 530.9h-1.5M234.5 566.9h-1.8M234.5 567.5h-2.4M234.5 568.1h-1.8M234.5 568.7h-2.4M234.5 569.3h-1.8M234.5 569.9h-2.4M234.5 570.5h-1.8M234.5 571.1h-2.4M234.5 571.7h-1.8M234.5 572.3h-2.4M234.5 572.9h-1.8M234.5 573.5h-2.4M234.5 574.1h-1.8M234.5 574.7h-2.4M234.5 575.3h-1.8M234.5 575.9h-2.4M234.5 576.5h-1.8M234.5 577.1h-2.4M234.5 577.7h-1.8M234.5 567.34h-1.5M234.5 562.38h-1.5M234.5 557.42h-1.5M234.5 552.46h-1.5M245.3 579v2.4M261.5 579v2.4M279.2 579v2.4M295.1 579v2.4M266.83 579v1.5M269.95 579v1.5M272.16 579v1.5M273.87 579v1.5M275.27 579v1.5M276.46 579v1.5M277.48 579v1.5M278.39 579v1.5M283.99 579v1.5M286.79 579v1.5M288.77 579v1.5M290.31 579v1.5M291.57 579v1.5M292.64 579v1.5M293.56 579v1.5M294.37 579v1.5M299.89 579v1.5M302.69 579v1.5M304.67 579v1.5M239.3 579v2.4M239.9 579v1.8M240.5 579v2.4M241.1 579v1.8M241.7 579v2.4M242.3 579v1.8M242.9 579v2.4M243.5 579v1.8M244.1 579v2.4M244.7 579v1.8M245.3 579v2.4M245.9 579v1.8M246.5 579v2.4M247.1 579v1.8M247.7 579v2.4M248.3 579v1.8M248.9 579v2.4M249.5 579v1.8M250.1 579v2.4M250.7 579v1.8M251.3 579v2.4M248.54 579v1.5M251.78 579v1.5M255.02 579v1.5M258.26 579v1.5M236.8 579v1.5" stroke="#000" stroke-width="0.8" fill="none"/>
<text x="371.6" y="501.8" font-size="6.6" text-anchor="middle">Snail1 tg/+</text>
<text x="325.9" y="515.5" font-size="8" text-anchor="end">10</text>
<text x="325.9" y="511.9" font-size="5.6">5</text>
<text x="325.9" y="532.8" font-size="8" text-anchor="end">10</text>
<text x="325.9" y="529.2" font-size="5.6">4</text>
<text x="325.9" y="550.2" font-size="8" text-anchor="end">10</text>
<text x="325.9" y="546.6" font-size="5.6">3</text>
<text x="328.8" y="575" font-size="8" text-anchor="end">0</text>
<text x="346.4" y="592.7" font-size="8" text-anchor="middle">0</text>
<text x="360.1" y="592.7" font-size="8">10</text>
<text x="368.8" y="589.1" font-size="5.6">3</text>
<text x="377.8" y="592.7" font-size="8">10</text>
<text x="386.5" y="589.1" font-size="5.6">4</text>
<text x="393.7" y="592.7" font-size="8">10</text>
<text x="402.4" y="589.1" font-size="5.6">5</text>
<path d="M335.6 512.8h-2.4M335.6 530.1h-2.4M335.6 547.5h-2.4M335.6 572.3h-2.4M335.6 524.89h-1.5M335.6 521.85h-1.5M335.6 519.68h-1.5M335.6 518.01h-1.5M335.6 516.64h-1.5M335.6 515.48h-1.5M335.6 514.48h-1.5M335.6 513.59h-1.5M335.6 542.26h-1.5M335.6 539.2h-1.5M335.6 537.02h-1.5M335.6 535.34h-1.5M335.6 533.96h-1.5M335.6 532.8h-1.5M335.6 531.79h-1.5M335.6 530.9h-1.5M335.6 566.9h-1.8M335.6 567.5h-2.4M335.6 568.1h-1.8M335.6 568.7h-2.4M335.6 569.3h-1.8M335.6 569.9h-2.4M335.6 570.5h-1.8M335.6 571.1h-2.4M335.6 571.7h-1.8M335.6 572.3h-2.4M335.6 572.9h-1.8M335.6 573.5h-2.4M335.6 574.1h-1.8M335.6 574.7h-2.4M335.6 575.3h-1.8M335.6 575.9h-2.4M335.6 576.5h-1.8M335.6 577.1h-2.4M335.6 577.7h-1.8M335.6 567.34h-1.5M335.6 562.38h-1.5M335.6 557.42h-1.5M335.6 552.46h-1.5M346.4 579v2.4M362.6 579v2.4M380.3 579v2.4M396.2 579v2.4M367.93 579v1.5M371.05 579v1.5M373.26 579v1.5M374.97 579v1.5M376.37 579v1.5M377.56 579v1.5M378.58 579v1.5M379.49 579v1.5M385.09 579v1.5M387.89 579v1.5M389.87 579v1.5M391.41 579v1.5M392.67 579v1.5M393.74 579v1.5M394.66 579v1.5M395.47 579v1.5M400.99 579v1.5M403.79 579v1.5M405.77 579v1.5M340.4 579v2.4M341 579v1.8M341.6 579v2.4M342.2 579v1.8M342.8 579v2.4M343.4 579v1.8M344 579v2.4M344.6 579v1.8M345.2 579v2.4M345.8 579v1.8M346.4 579v2.4M347 579v1.8M347.6 579v2.4M348.2 579v1.8M348.8 579v2.4M349.4 579v1.8M350 579v2.4M350.6 579v1.8M351.2 579v2.4M351.8 579v1.8M352.4 579v2.4M349.64 579v1.5M352.88 579v1.5M356.12 579v1.5M359.36 579v1.5M337.9 579v1.5" stroke="#000" stroke-width="0.8" fill="none"/>
<text x="471.7" y="501.8" font-size="6.6" text-anchor="middle">Snail1 tg/tg</text>
<text x="426" y="515.5" font-size="8" text-anchor="end">10</text>
<text x="426" y="511.9" font-size="5.6">5</text>
<text x="426" y="532.8" font-size="8" text-anchor="end">10</text>
<text x="426" y="529.2" font-size="5.6">4</text>
<text x="426" y="550.2" font-size="8" text-anchor="end">10</text>
<text x="426" y="546.6" font-size="5.6">3</text>
<text x="428.9" y="575" font-size="8" text-anchor="end">0</text>
<text x="446.5" y="592.7" font-size="8" text-anchor="middle">0</text>
<text x="460.2" y="592.7" font-size="8">10</text>
<text x="468.9" y="589.1" font-size="5.6">3</text>
<text x="477.9" y="592.7" font-size="8">10</text>
<text x="486.6" y="589.1" font-size="5.6">4</text>
<text x="493.8" y="592.7" font-size="8">10</text>
<text x="502.5" y="589.1" font-size="5.6">5</text>
<path d="M435.7 512.8h-2.4M435.7 530.1h-2.4M435.7 547.5h-2.4M435.7 572.3h-2.4M435.7 524.89h-1.5M435.7 521.85h-1.5M435.7 519.68h-1.5M435.7 518.01h-1.5M435.7 516.64h-1.5M435.7 515.48h-1.5M435.7 514.48h-1.5M435.7 513.59h-1.5M435.7 542.26h-1.5M435.7 539.2h-1.5M435.7 537.02h-1.5M435.7 535.34h-1.5M435.7 533.96h-1.5M435.7 532.8h-1.5M435.7 531.79h-1.5M435.7 530.9h-1.5M435.7 566.9h-1.8M435.7 567.5h-2.4M435.7 568.1h-1.8M435.7 568.7h-2.4M435.7 569.3h-1.8M435.7 569.9h-2.4M435.7 570.5h-1.8M435.7 571.1h-2.4M435.7 571.7h-1.8M435.7 572.3h-2.4M435.7 572.9h-1.8M435.7 573.5h-2.4M435.7 574.1h-1.8M435.7 574.7h-2.4M435.7 575.3h-1.8M435.7 575.9h-2.4M435.7 576.5h-1.8M435.7 577.1h-2.4M435.7 577.7h-1.8M435.7 567.34h-1.5M435.7 562.38h-1.5M435.7 557.42h-1.5M435.7 552.46h-1.5M446.5 579v2.4M462.7 579v2.4M480.4 579v2.4M496.3 579v2.4M468.03 579v1.5M471.15 579v1.5M473.36 579v1.5M475.07 579v1.5M476.47 579v1.5M477.66 579v1.5M478.68 579v1.5M479.59 579v1.5M485.19 579v1.5M487.99 579v1.5M489.97 579v1.5M491.51 579v1.5M492.77 579v1.5M493.84 579v1.5M494.76 579v1.5M495.57 579v1.5M501.09 579v1.5M503.89 579v1.5M505.87 579v1.5M440.5 579v2.4M441.1 579v1.8M441.7 579v2.4M442.3 579v1.8M442.9 579v2.4M443.5 579v1.8M444.1 579v2.4M444.7 579v1.8M445.3 579v2.4M445.9 579v1.8M446.5 579v2.4M447.1 579v1.8M447.7 579v2.4M448.3 579v1.8M448.9 579v2.4M449.5 579v1.8M450.1 579v2.4M450.7 579v1.8M451.3 579v2.4M451.9 579v1.8M452.5 579v2.4M449.74 579v1.5M452.98 579v1.5M456.22 579v1.5M459.46 579v1.5M438 579v1.5" stroke="#000" stroke-width="0.8" fill="none"/>
<g clip-path="url(#cp0)"><g filter="url(#dn0)"><rect x="234.5" y="40.3" width="72.4" height="72.6" fill="none"/><g transform="translate(234.5 40.3)" fill="#000"><path d="M16 27 L58 27 L66 50 L64 73 L16 73 Z" fill-opacity="0.15" filter="url(#b5)"/><path d="M28 30 L38 30 L56 56 L58 70 L46 72 Z" fill-opacity="0.12" filter="url(#b4)"/><ellipse cx="49" cy="57" rx="7" ry="10" fill-opacity="0.16" filter="url(#b3)"/><ellipse cx="21" cy="50" rx="5" ry="22" fill-opacity="0.22" filter="url(#b4)"/><path d="M18 14.5 L46 15 L54 21 L46 27 L18 27 Z" fill-opacity="0.42" filter="url(#b2)"/><ellipse cx="30" cy="21" rx="10" ry="4" fill-opacity="0.15" filter="url(#b2)"/><path d="M0.5 13.5 L19 13 L19.5 28 L16.8 55 L15.5 71 L6 71 L4 55 L1.5 28 Z" fill-opacity="0.6" filter="url(#b2)"/></g></g><g transform="translate(234.5 40.3)"><path d="M6.2 16.5 L13 16.5 L12.4 30 L14 44 L14.2 66 L10.5 70 L6.6 66 L6.4 44 L7.3 30 Z" fill="#2a44bc" fill-opacity="0.8" filter="url(#b2)"/><path d="M6.8 17.5 L12.6 17.5 L12 30 L13.5 44 L13.6 65 L10.5 69 L7 65 L6.8 44 L7.8 30 Z" fill="#3cb6e0" fill-opacity="1" filter="url(#b2)"/><path d="M8.3 21 L11.5 21 L11.2 34 L12.3 46 L12.2 61 L10 64 L7.8 61 L7.7 46 L8.5 34 Z" fill="#6cbf48" fill-opacity="1" filter="url(#b2)"/><ellipse cx="10" cy="52" rx="2.4" ry="10.5" fill="#e2dc2c" fill-opacity="1" filter="url(#b2)"/><ellipse cx="10" cy="52.5" rx="1.7" ry="7.5" fill="#f29a22" fill-opacity="1" filter="url(#b2)"/><ellipse cx="10" cy="52.5" rx="1.1" ry="5.5" fill="#dc2222" fill-opacity="1" filter="url(#b2)"/></g></g>
<g clip-path="url(#cp1)"><g filter="url(#dn1)"><rect x="335.3" y="40.3" width="72.4" height="72.6" fill="none"/><g transform="translate(335.3 40.3)" fill="#000"><path d="M18 27 L60 27 L68 50 L66 73 L18 73 Z" fill-opacity="0.17" filter="url(#b5)"/><ellipse cx="40" cy="50" rx="16" ry="18" fill-opacity="0.08" filter="url(#b5)"/><ellipse cx="48" cy="44" rx="7" ry="9" fill-opacity="0.12" filter="url(#b3)"/><ellipse cx="32" cy="60" rx="8" ry="8" fill-opacity="0.08" filter="url(#b3)"/><ellipse cx="22" cy="48" rx="5" ry="22" fill-opacity="0.22" filter="url(#b4)"/><path d="M20 14.5 L48 15 L57 21 L49 26.5 L20 26.5 Z" fill-opacity="0.4" filter="url(#b2)"/><ellipse cx="32" cy="21" rx="10" ry="4" fill-opacity="0.12" filter="url(#b2)"/><path d="M1.5 13.5 L20.5 13 L19.5 28 L16.5 56 L15.5 69 L5 69 L3.5 56 L1.5 28 Z" fill-opacity="0.6" filter="url(#b2)"/></g></g><g transform="translate(335.3 40.3)"><path d="M5.6 16.5 L14.6 16.5 L13.4 30 L14.2 46 L14.2 62 L10.5 66.5 L6.4 62 L6.4 46 L7.1 30 Z" fill="#2a44bc" fill-opacity="0.8" filter="url(#b2)"/><path d="M6.1 17.3 L14.1 17.3 L13 30 L13.8 46 L13.8 61.5 L10.5 65.5 L6.8 61.5 L6.8 46 L7.5 30 Z" fill="#3cb6e0" fill-opacity="1" filter="url(#b2)"/><path d="M7.6 21 L12.6 21 L12 32 L12.7 48 L12.5 60 L10.5 62.5 L8 60 L7.7 48 L8.2 32 Z" fill="#6cbf48" fill-opacity="1" filter="url(#b2)"/><ellipse cx="10.3" cy="33" rx="1.3" ry="5" fill="#e2dc2c" fill-opacity="1" filter="url(#b2)"/><ellipse cx="10.7" cy="53.5" rx="2.5" ry="8.5" fill="#e2dc2c" fill-opacity="1" filter="url(#b2)"/><ellipse cx="10.8" cy="54" rx="1.9" ry="6.2" fill="#f29a22" fill-opacity="1" filter="url(#b2)"/><ellipse cx="10.9" cy="54" rx="1.2" ry="4.8" fill="#dc2222" fill-opacity="1" filter="url(#b2)"/></g></g>
<g clip-path="url(#cp2)"><g filter="url(#dn2)"><rect x="435.7" y="40.3" width="72.4" height="72.6" fill="none"/><g transform="translate(435.7 40.3)" fill="#000"><path d="M17 27 L54 27 L64 50 L62 73 L17 73 Z" fill-opacity="0.15" filter="url(#b5)"/><ellipse cx="32" cy="50" rx="12" ry="18" fill-opacity="0.06" filter="url(#b5)"/><ellipse cx="20" cy="48" rx="5" ry="22" fill-opacity="0.2" filter="url(#b4)"/><path d="M19 14.5 L50 15 L58 21 L50 27 L19 27 Z" fill-opacity="0.42" filter="url(#b2)"/><ellipse cx="32" cy="21" rx="11" ry="4" fill-opacity="0.15" filter="url(#b2)"/><path d="M1 13.5 L18.5 13 L18.5 28 L16 56 L15.3 71 L3.5 71 L2.8 56 L1 28 Z" fill-opacity="0.6" filter="url(#b2)"/></g></g><g transform="translate(435.7 40.3)"><path d="M4.5 16.5 L14.4 16.5 L13.9 32 L13.7 50 L13.2 66 L9.5 69.5 L5.6 66 L5.4 50 L5.1 32 Z" fill="#2a44bc" fill-opacity="0.8" filter="url(#b2)"/><path d="M4.9 17.2 L14 17.2 L13.5 32 L13.3 50 L12.8 65.5 L9.5 68.8 L6 65.5 L5.8 50 L5.5 32 Z" fill="#3cb6e0" fill-opacity="1" filter="url(#b2)"/><path d="M6.3 19.5 L13 19.5 L12.6 34 L12.2 52 L11.8 63 L9.5 66 L7.2 63 L6.8 52 L6.5 34 Z" fill="#6cbf48" fill-opacity="1" filter="url(#b2)"/><path d="M7.6 21.5 L12.2 21.5 L11.8 36 L11.5 52 L11.2 60 L9.7 62 L8.2 60 L7.9 52 L7.7 36 Z" fill="#e2dc2c" fill-opacity="1" filter="url(#b2)"/><ellipse cx="9.8" cy="45" rx="1.4" ry="8" fill="#f29a22" fill-opacity="0.8" filter="url(#b2)"/><ellipse cx="10" cy="26" rx="1.8" ry="4.2" fill="#dc2222" fill-opacity="1" filter="url(#b2)"/><ellipse cx="10" cy="36" rx="1.6" ry="3.5" fill="#dc2222" fill-opacity="1" filter="url(#b2)"/></g></g>
<g clip-path="url(#cp3)"><g filter="url(#dn3)"><rect x="234.4" y="196.9" width="71.4" height="71.1" fill="none"/><g transform="translate(234.4 196.9)" fill="#000"><path d="M37 20 L45 20 L47.5 38 L49 59 L31 59 L33.5 38 Z" fill-opacity="0.2" filter="url(#b3)"/><ellipse cx="41" cy="40" rx="3.5" ry="13" fill-opacity="0.07" filter="url(#b2)"/><ellipse cx="40.5" cy="53" rx="5" ry="4" fill-opacity="0.07" filter="url(#b2)"/><path d="M5 50.5 L32 50 L32 58.5 L5 58.5 Z" fill-opacity="0.1" filter="url(#b3)"/></g></g><g transform="translate(234.4 196.9)"></g></g>
<g clip-path="url(#cp4)"><g filter="url(#dn4)"><rect x="335.6" y="196.9" width="71.4" height="71.1" fill="none"/><g transform="translate(335.6 196.9)" fill="#000"><path d="M38 21 L47 21 L49 42 L52 59 L33 59 L35.5 42 Z" fill-opacity="0.2" filter="url(#b3)"/><ellipse cx="42.5" cy="42" rx="3.5" ry="13" fill-opacity="0.08" filter="url(#b2)"/><ellipse cx="42.5" cy="53" rx="5" ry="4" fill-opacity="0.1" filter="url(#b2)"/><path d="M12 51 L34 50 L34 58.5 L12 58.5 Z" fill-opacity="0.1" filter="url(#b3)"/></g></g><g transform="translate(335.6 196.9)"></g></g>
<g clip-path="url(#cp5)"><g filter="url(#dn5)"><rect x="435.7" y="196.9" width="71.4" height="71.1" fill="none"/><g transform="translate(435.7 196.9)" fill="#000"><path d="M39 20 L48 20 L50 42 L52 59 L34 59 L36.5 42 Z" fill-opacity="0.21" filter="url(#b3)"/><ellipse cx="43.5" cy="38" rx="3.5" ry="12" fill-opacity="0.1" filter="url(#b2)"/><ellipse cx="44.5" cy="54.5" rx="4" ry="3.5" fill-opacity="0.2" filter="url(#b2)"/><path d="M11 51 L33 51 L33 59 L11 59 Z" fill-opacity="0.08" filter="url(#b3)"/></g></g><g transform="translate(435.7 196.9)"></g></g>
<g clip-path="url(#cp6)"><g filter="url(#dn6)"><rect x="234.4" y="346.6" width="71.4" height="71.4" fill="none"/><g transform="translate(234.4 346.6)" fill="#000"><path d="M1 34 L24 31 L27 40 L26 52 L1 52 Z" fill-opacity="0.17" filter="url(#b6)"/><path d="M0 63.5 L56 63.5 L56 68.5 L0 68.5 Z" fill-opacity="0.11" filter="url(#b3)"/><path d="M27 31 L48 30 L52 45 L50 62 L27 63 Z" fill-opacity="0.13" filter="url(#b5)"/><ellipse cx="13" cy="57.5" rx="13" ry="6.5" fill-opacity="0.35" filter="url(#b4)"/><path d="M26 54 Q38 56 42 44 L46 36 L50 40 L47 52 Q40 64 26 62 Z" fill-opacity="0.3" filter="url(#b3)"/><ellipse cx="39" cy="37.5" rx="10" ry="7" fill-opacity="0.35" filter="url(#b4)"/></g></g><g transform="translate(234.4 346.6)"><ellipse cx="13" cy="58" rx="12.5" ry="5.2" fill="#2a44bc" fill-opacity="0.55" filter="url(#b3)"/><ellipse cx="13" cy="58" rx="11.5" ry="4.3" fill="#3cb6e0" fill-opacity="0.75" filter="url(#b2)"/><ellipse cx="13" cy="58.3" rx="10" ry="3" fill="#6cbf48" fill-opacity="0.85" filter="url(#b2)"/><ellipse cx="13" cy="58.4" rx="8" ry="2" fill="#e2dc2c" fill-opacity="0.9" filter="url(#b1)"/><ellipse cx="13" cy="58.5" rx="6.5" ry="1.4" fill="#f29a22" fill-opacity="1" filter="url(#b1)"/><ellipse cx="12.5" cy="58.5" rx="5" ry="1" fill="#dc2222" fill-opacity="1" filter="url(#b1)"/><path d="M24 53 Q36 52 40 40 L42 32 L49 32 L49.5 44 Q44 59 28 62.5 L24 61 Z" fill="#2a44bc" fill-opacity="0.45" filter="url(#b3)"/><path d="M27 55 Q37 53 41 42 L43 34.5 L48 34.5 L48 44 Q43 56.5 29 60.5 Z" fill="#3cb6e0" fill-opacity="0.6" filter="url(#b2)"/><path d="M31 56 Q38 54 42 44 L44 36.5 L47 36.5 L46.5 45 Q42 55 32 58.5 Z" fill="#6cbf48" fill-opacity="0.6" filter="url(#b2)"/><ellipse cx="41" cy="38" rx="8" ry="6" fill="#2a44bc" fill-opacity="0.3" filter="url(#b3)"/><ellipse cx="43" cy="38" rx="5.5" ry="5.5" fill="#3cb6e0" fill-opacity="0.6" filter="url(#b2)"/><ellipse cx="43.5" cy="38" rx="3.5" ry="4.5" fill="#6cbf48" fill-opacity="0.85" filter="url(#b2)"/><ellipse cx="43.8" cy="37.5" rx="2" ry="3" fill="#e2dc2c" fill-opacity="0.75" filter="url(#b1)"/></g></g>
<g clip-path="url(#cp7)"><g filter="url(#dn7)"><rect x="335.6" y="346.6" width="71.4" height="71.4" fill="none"/><g transform="translate(335.6 346.6)" fill="#000"><path d="M1 33 L22 31 L24 40 L24 52 L1 52 Z" fill-opacity="0.13" filter="url(#b6)"/><path d="M0 63.5 L56 63.5 L56 68.5 L0 68.5 Z" fill-opacity="0.09" filter="url(#b3)"/><path d="M24 44 L50 44 L52 64 L24 64 Z" fill-opacity="0.12" filter="url(#b5)"/><ellipse cx="14" cy="59" rx="12.5" ry="5" fill-opacity="0.4" filter="url(#b3)"/><path d="M21 31 L50 28 L52 40 L50 58 L36 60 L33 46 L28 43 L21 40 Z" fill-opacity="0.4" filter="url(#b3)"/></g></g><g transform="translate(335.6 346.6)"><ellipse cx="14.5" cy="59" rx="11" ry="4" fill="#2a44bc" fill-opacity="0.5" filter="url(#b2)"/><ellipse cx="14.5" cy="59" rx="10" ry="3.2" fill="#3cb6e0" fill-opacity="0.8" filter="url(#b2)"/><ellipse cx="14.5" cy="59" rx="8" ry="2.2" fill="#6cbf48" fill-opacity="0.95" filter="url(#b2)"/><ellipse cx="14.5" cy="59" rx="5" ry="1.2" fill="#e2dc2c" fill-opacity="0.6" filter="url(#b1)"/><path d="M23 31 L50 29 L51 40 L47 57 L37.5 58 L35.5 45 L29 41.5 L22 40 Z" fill="#2a44bc" fill-opacity="0.45" filter="url(#b3)"/><path d="M26 32 L49 30 L50 40 L46 55.5 L38.5 56.5 L36.5 44 L30 40.5 Z" fill="#3cb6e0" fill-opacity="0.75" filter="url(#b2)"/><path d="M31 33 L48.5 31 L49 40 L45 53 L40 53.5 L39 43 L34 39 Z" fill="#6cbf48" fill-opacity="0.85" filter="url(#b2)"/><ellipse cx="43.5" cy="37" rx="6.5" ry="5" fill="#e2dc2c" fill-opacity="0.85" filter="url(#b2)"/><ellipse cx="44" cy="37" rx="4.8" ry="3.8" fill="#f29a22" fill-opacity="0.95" filter="url(#b2)"/><ellipse cx="44.5" cy="37" rx="3.4" ry="2.8" fill="#dc2222" fill-opacity="1" filter="url(#b1)"/></g></g>
<g clip-path="url(#cp8)"><g filter="url(#dn8)"><rect x="435.7" y="346.6" width="71.4" height="71.4" fill="none"/><g transform="translate(435.7 346.6)" fill="#000"><path d="M1 30 L24 28 L26 40 L26 52 L1 52 Z" fill-opacity="0.18" filter="url(#b6)"/><path d="M0 63.5 L56 63.5 L56 68.5 L0 68.5 Z" fill-opacity="0.09" filter="url(#b3)"/><path d="M26 42 L40 42 L40 64 L26 64 Z" fill-opacity="0.2" filter="url(#b4)"/><ellipse cx="13" cy="58" rx="12.5" ry="6.5" fill-opacity="0.38" filter="url(#b4)"/><path d="M24 29 L51 26 L52 40 L51 58 L39 60 L37 44 L30 42 L24 40 Z" fill-opacity="0.4" filter="url(#b3)"/></g></g><g transform="translate(435.7 346.6)"><ellipse cx="14" cy="58.5" rx="10" ry="4.5" fill="#2a44bc" fill-opacity="0.45" filter="url(#b3)"/><ellipse cx="15" cy="59" rx="7" ry="3" fill="#3cb6e0" fill-opacity="0.5" filter="url(#b3)"/><path d="M26 29 L51 27 L51.5 40 L48 57 L39.5 58 L38.5 45 L31 41.5 L25 40 Z" fill="#2a44bc" fill-opacity="0.45" filter="url(#b3)"/><path d="M29 29 L50 28 L50.5 40 L47 56 L40.5 57 L39.5 44 L32.5 40.5 Z" fill="#3cb6e0" fill-opacity="0.75" filter="url(#b2)"/><path d="M34 29.5 L49.5 29 L49.5 39 L46.5 54 L41.5 54.5 L41.5 43 L36 38 Z" fill="#6cbf48" fill-opacity="0.85" filter="url(#b2)"/><ellipse cx="44" cy="33" rx="6" ry="4" fill="#e2dc2c" fill-opacity="0.9" filter="url(#b2)"/><ellipse cx="45" cy="33" rx="4.5" ry="3" fill="#f29a22" fill-opacity="1" filter="url(#b1)"/><ellipse cx="45.5" cy="33" rx="3.2" ry="2" fill="#dc2222" fill-opacity="1" filter="url(#b1)"/></g></g>
<g clip-path="url(#cp9)"><g filter="url(#dn9)"><rect x="234.5" y="507" width="72" height="72" fill="none"/><g transform="translate(234.5 507)" fill="#000"><path d="M1 21.5 L49 21.5 L49 43 L1 43 Z" fill-opacity="0.33" filter="url(#b4)"/><path d="M1 43 L46 43 L50 70 L1 70 Z" fill-opacity="0.1" filter="url(#b5)"/><path d="M1 43 L22 43 L22 70 L1 70 Z" fill-opacity="0.08" filter="url(#b5)"/><ellipse cx="11" cy="60" rx="9" ry="10" fill-opacity="0.45" transform="rotate(-25 11 60)" filter="url(#b3)"/></g></g><g transform="translate(234.5 507)"><ellipse cx="25" cy="32" rx="7" ry="8" fill="#3cb6e0" fill-opacity="0.25" filter="url(#b3)"/><ellipse cx="40.5" cy="32" rx="5.5" ry="7.5" fill="#3cb6e0" fill-opacity="0.6" filter="url(#b3)"/><ellipse cx="40.5" cy="32" rx="3.5" ry="5.5" fill="#6cbf48" fill-opacity="0.75" filter="url(#b2)"/><ellipse cx="11" cy="60" rx="6" ry="7.6" fill="#2a44bc" fill-opacity="0.6" transform="rotate(-25 11 60)" filter="url(#b2)"/><ellipse cx="11" cy="60.3" rx="5.4" ry="7" fill="#3cb6e0" fill-opacity="0.85" transform="rotate(-25 11 60.3)" filter="url(#b2)"/><ellipse cx="11" cy="60.5" rx="4.6" ry="6" fill="#6cbf48" fill-opacity="1" transform="rotate(-25 11 60.5)" filter="url(#b2)"/><ellipse cx="11" cy="60.8" rx="3.4" ry="4.6" fill="#e2dc2c" fill-opacity="1" transform="rotate(-25 11 60.8)" filter="url(#b2)"/><ellipse cx="11" cy="60.9" rx="2.5" ry="3.5" fill="#f29a22" fill-opacity="1" transform="rotate(-25 11 60.9)" filter="url(#b1)"/><ellipse cx="11" cy="61" rx="1.8" ry="2.6" fill="#dc2222" fill-opacity="1" transform="rotate(-25 11 61)" filter="url(#b1)"/></g></g>
<g clip-path="url(#cp10)"><g filter="url(#dn10)"><rect x="335.6" y="507" width="72" height="72" fill="none"/><g transform="translate(335.6 507)" fill="#000"><path d="M1 21.5 L49 21.5 L49 43 L1 43 Z" fill-opacity="0.35" filter="url(#b4)"/><path d="M1 43 L46 43 L50 70 L1 70 Z" fill-opacity="0.1" filter="url(#b5)"/><path d="M1 43 L22 43 L22 70 L1 70 Z" fill-opacity="0.08" filter="url(#b5)"/><ellipse cx="10" cy="60" rx="9.5" ry="11" fill-opacity="0.45" transform="rotate(-25 10 60)" filter="url(#b3)"/></g></g><g transform="translate(335.6 507)"><ellipse cx="26" cy="32" rx="8" ry="7" fill="#3cb6e0" fill-opacity="0.3" filter="url(#b3)"/><ellipse cx="40.5" cy="31" rx="6.5" ry="6.5" fill="#3cb6e0" fill-opacity="0.65" filter="url(#b3)"/><ellipse cx="40.5" cy="31" rx="4.5" ry="4.5" fill="#6cbf48" fill-opacity="0.8" filter="url(#b2)"/><ellipse cx="10" cy="60" rx="6.48" ry="8.21" fill="#2a44bc" fill-opacity="0.6" transform="rotate(-25 10 60)" filter="url(#b2)"/><ellipse cx="10" cy="60.3" rx="5.83" ry="7.56" fill="#3cb6e0" fill-opacity="0.85" transform="rotate(-25 10 60.3)" filter="url(#b2)"/><ellipse cx="10" cy="60.5" rx="4.97" ry="6.48" fill="#6cbf48" fill-opacity="1" transform="rotate(-25 10 60.5)" filter="url(#b2)"/><ellipse cx="10" cy="60.8" rx="3.67" ry="4.97" fill="#e2dc2c" fill-opacity="1" transform="rotate(-25 10 60.8)" filter="url(#b2)"/><ellipse cx="10" cy="60.9" rx="2.7" ry="3.78" fill="#f29a22" fill-opacity="1" transform="rotate(-25 10 60.9)" filter="url(#b1)"/><ellipse cx="10" cy="61" rx="1.94" ry="2.81" fill="#dc2222" fill-opacity="1" transform="rotate(-25 10 61)" filter="url(#b1)"/></g></g>
<g clip-path="url(#cp11)"><g filter="url(#dn11)"><rect x="435.7" y="507" width="72" height="72" fill="none"/><g transform="translate(435.7 507)" fill="#000"><path d="M1 21.5 L48 21.5 L48 43 L1 43 Z" fill-opacity="0.38" filter="url(#b4)"/><path d="M1 43 L46 43 L50 70 L1 70 Z" fill-opacity="0.1" filter="url(#b5)"/><path d="M1 43 L22 43 L22 70 L1 70 Z" fill-opacity="0.1" filter="url(#b5)"/><ellipse cx="10" cy="60" rx="9" ry="11" fill-opacity="0.45" transform="rotate(-25 10 60)" filter="url(#b3)"/></g></g><g transform="translate(435.7 507)"><path d="M4 25 L46 24 L46 40 L4 40 Z" fill="#3cb6e0" fill-opacity="0.5" filter="url(#b3)"/><path d="M18 26 L46 25 L46 39 L18 39 Z" fill="#6cbf48" fill-opacity="0.45" filter="url(#b3)"/><ellipse cx="41" cy="31" rx="5.5" ry="7" fill="#6cbf48" fill-opacity="0.75" filter="url(#b3)"/><ellipse cx="26" cy="32" rx="6" ry="6" fill="#6cbf48" fill-opacity="0.45" filter="url(#b3)"/><ellipse cx="40" cy="29" rx="3" ry="3" fill="#e2dc2c" fill-opacity="0.6" filter="url(#b2)"/><ellipse cx="10" cy="60" rx="6" ry="7.6" fill="#2a44bc" fill-opacity="0.6" transform="rotate(-25 10 60)" filter="url(#b2)"/><ellipse cx="10" cy="60.3" rx="5.4" ry="7" fill="#3cb6e0" fill-opacity="0.85" transform="rotate(-25 10 60.3)" filter="url(#b2)"/><ellipse cx="10" cy="60.5" rx="4.6" ry="6" fill="#6cbf48" fill-opacity="1" transform="rotate(-25 10 60.5)" filter="url(#b2)"/><ellipse cx="10" cy="60.8" rx="3.4" ry="4.6" fill="#e2dc2c" fill-opacity="1" transform="rotate(-25 10 60.8)" filter="url(#b2)"/><ellipse cx="10" cy="60.9" rx="2.5" ry="3.5" fill="#f29a22" fill-opacity="1" transform="rotate(-25 10 60.9)" filter="url(#b1)"/><ellipse cx="10" cy="61" rx="1.8" ry="2.6" fill="#dc2222" fill-opacity="1" transform="rotate(-25 10 61)" filter="url(#b1)"/></g></g>
<rect x="234.5" y="40.3" width="72.4" height="72.6" fill="none" stroke="#2a2a2a" stroke-width="0.8"/>
<rect x="335.3" y="40.3" width="72.4" height="72.6" fill="none" stroke="#2a2a2a" stroke-width="0.8"/>
<rect x="435.7" y="40.3" width="72.4" height="72.6" fill="none" stroke="#2a2a2a" stroke-width="0.8"/>
<rect x="234.4" y="196.9" width="71.4" height="71.1" fill="none" stroke="#2a2a2a" stroke-width="0.8"/>
<rect x="335.6" y="196.9" width="71.4" height="71.1" fill="none" stroke="#2a2a2a" stroke-width="0.8"/>
<rect x="435.7" y="196.9" width="71.4" height="71.1" fill="none" stroke="#2a2a2a" stroke-width="0.8"/>
<rect x="234.4" y="346.6" width="71.4" height="71.4" fill="none" stroke="#2a2a2a" stroke-width="0.8"/>
<rect x="335.6" y="346.6" width="71.4" height="71.4" fill="none" stroke="#2a2a2a" stroke-width="0.8"/>
<rect x="435.7" y="346.6" width="71.4" height="71.4" fill="none" stroke="#2a2a2a" stroke-width="0.8"/>
<rect x="234.5" y="507" width="72" height="72" fill="none" stroke="#2a2a2a" stroke-width="0.8"/>
<rect x="335.6" y="507" width="72" height="72" fill="none" stroke="#2a2a2a" stroke-width="0.8"/>
<rect x="435.7" y="507" width="72" height="72" fill="none" stroke="#2a2a2a" stroke-width="0.8"/>
<rect x="234.5" y="52" width="20" height="15.4" fill="none" stroke="#4a4a4a" stroke-width="0.7"/>
<rect x="258.5" y="51.3" width="39" height="16.1" fill="none" stroke="#4a4a4a" stroke-width="0.7"/>
<text x="244.3" y="45.6" font-size="4.4" text-anchor="middle" fill="#111" style="stroke-width:0.18px">MP</text>
<text x="244.3" y="50.4" font-size="4.4" text-anchor="middle" fill="#111" style="stroke-width:0.18px">8.7%</text>
<text x="279.4" y="45.6" font-size="4.4" text-anchor="middle" fill="#111" style="stroke-width:0.18px">LSK</text>
<text x="279.4" y="50.4" font-size="4.4" text-anchor="middle" fill="#111" style="stroke-width:0.18px">1.0%</text>
<rect x="335.3" y="51.8" width="19" height="15.6" fill="none" stroke="#4a4a4a" stroke-width="0.7"/>
<rect x="359" y="51.5" width="38.5" height="15.9" fill="none" stroke="#4a4a4a" stroke-width="0.7"/>
<text x="345" y="45.6" font-size="4.4" text-anchor="middle" fill="#111" style="stroke-width:0.18px">MP</text>
<text x="345" y="50.4" font-size="4.4" text-anchor="middle" fill="#111" style="stroke-width:0.18px">10.8%</text>
<text x="377.5" y="45.6" font-size="4.4" text-anchor="middle" fill="#111" style="stroke-width:0.18px">LSK</text>
<text x="377.5" y="50.4" font-size="4.4" text-anchor="middle" fill="#111" style="stroke-width:0.18px">1.3%</text>
<rect x="435.7" y="52" width="19.8" height="15.6" fill="none" stroke="#4a4a4a" stroke-width="0.7"/>
<rect x="459.3" y="51.8" width="38.7" height="15.8" fill="none" stroke="#4a4a4a" stroke-width="0.7"/>
<text x="445.5" y="45.6" font-size="4.4" text-anchor="middle" fill="#111" style="stroke-width:0.18px">MP</text>
<text x="445.5" y="50.4" font-size="4.4" text-anchor="middle" fill="#111" style="stroke-width:0.18px">14.8%</text>
<text x="478.8" y="45.6" font-size="4.4" text-anchor="middle" fill="#111" style="stroke-width:0.18px">LSK</text>
<text x="478.8" y="50.4" font-size="4.4" text-anchor="middle" fill="#111" style="stroke-width:0.18px">2.4%</text>
<rect x="265.7" y="210.4" width="24.3" height="32" fill="none" stroke="#4a4a4a" stroke-width="0.7"/>
<rect x="265.7" y="242.4" width="23.7" height="14.9" fill="none" stroke="#4a4a4a" stroke-width="0.7"/>
<rect x="243.1" y="245" width="22.6" height="12.3" fill="none" stroke="#4a4a4a" stroke-width="0.7"/>
<text x="276.3" y="204.3" font-size="4.4" text-anchor="middle" fill="#111" style="stroke-width:0.18px">MPP</text>
<text x="276.3" y="209.9" font-size="4.4" text-anchor="middle" fill="#111" style="stroke-width:0.18px">53.2%</text>
<text x="253.8" y="239.6" font-size="4.4" text-anchor="middle" fill="#111" style="stroke-width:0.18px">LT-HSC</text>
<text x="253.8" y="244.6" font-size="4.4" text-anchor="middle" fill="#111" style="stroke-width:0.18px">8.3%</text>
<text x="291" y="249.4" font-size="4.4" fill="#111" style="stroke-width:0.18px">37.3%</text>
<text x="291" y="255.1" font-size="4.4" fill="#111" style="stroke-width:0.18px">ST-HSC</text>
<rect x="369.2" y="210.4" width="25.4" height="32.2" fill="none" stroke="#4a4a4a" stroke-width="0.7"/>
<rect x="369.2" y="242.6" width="26.2" height="14.4" fill="none" stroke="#4a4a4a" stroke-width="0.7"/>
<rect x="346.3" y="246.4" width="22.9" height="10.6" fill="none" stroke="#4a4a4a" stroke-width="0.7"/>
<text x="380.6" y="204.3" font-size="4.4" text-anchor="middle" fill="#111" style="stroke-width:0.18px">MPP</text>
<text x="380.6" y="209.9" font-size="4.4" text-anchor="middle" fill="#111" style="stroke-width:0.18px">48.8%</text>
<text x="357.3" y="239.6" font-size="4.4" text-anchor="middle" fill="#111" style="stroke-width:0.18px">LT-HSC</text>
<text x="357.3" y="244.6" font-size="4.4" text-anchor="middle" fill="#111" style="stroke-width:0.18px">5.4%</text>
<text x="397.3" y="249.4" font-size="4.4" fill="#111" style="stroke-width:0.18px">44.8%</text>
<text x="397.3" y="255.1" font-size="4.4" fill="#111" style="stroke-width:0.18px">ST-HSC</text>
<rect x="469.2" y="210.4" width="24.2" height="32.2" fill="none" stroke="#4a4a4a" stroke-width="0.7"/>
<rect x="469.2" y="242.6" width="25.8" height="14.4" fill="none" stroke="#4a4a4a" stroke-width="0.7"/>
<rect x="446" y="246.4" width="23.2" height="10.6" fill="none" stroke="#4a4a4a" stroke-width="0.7"/>
<text x="482" y="204.3" font-size="4.4" text-anchor="middle" fill="#111" style="stroke-width:0.18px">MPP</text>
<text x="482" y="209.9" font-size="4.4" text-anchor="middle" fill="#111" style="stroke-width:0.18px">43%</text>
<text x="457.3" y="239.6" font-size="4.4" text-anchor="middle" fill="#111" style="stroke-width:0.18px">LT-HSC</text>
<text x="457.3" y="244.6" font-size="4.4" text-anchor="middle" fill="#111" style="stroke-width:0.18px">9.3%</text>
<text x="497.3" y="249.4" font-size="4.4" fill="#111" style="stroke-width:0.18px">52%</text>
<text x="497.3" y="255.1" font-size="4.4" fill="#111" style="stroke-width:0.18px">ST-HSC</text>
<rect x="260.3" y="372.8" width="26.6" height="18.4" fill="none" stroke="#4a4a4a" stroke-width="0.7"/>
<rect x="260.3" y="391.2" width="26.6" height="20.3" fill="none" stroke="#4a4a4a" stroke-width="0.7"/>
<rect x="234.4" y="397.2" width="25.9" height="14.3" fill="none" stroke="#4a4a4a" stroke-width="0.7"/>
<text x="276.9" y="365.6" font-size="4.4" text-anchor="middle" fill="#111" style="stroke-width:0.18px">GMP</text>
<text x="276.9" y="370.8" font-size="4.4" text-anchor="middle" fill="#111" style="stroke-width:0.18px">23.6%</text>
<text x="240.8" y="384.2" font-size="4.4" fill="#111" style="stroke-width:0.18px">MEP</text>
<text x="240.8" y="389.6" font-size="4.4" fill="#111" style="stroke-width:0.18px">38.1%</text>
<text x="288.2" y="400.6" font-size="4.4" fill="#111" style="stroke-width:0.18px">CMP</text>
<text x="288.2" y="405.6" font-size="4.4" fill="#111" style="stroke-width:0.18px">32.4%</text>
<rect x="360.7" y="372.6" width="26.5" height="18.5" fill="none" stroke="#4a4a4a" stroke-width="0.7"/>
<rect x="360.7" y="391.1" width="26.5" height="20.1" fill="none" stroke="#4a4a4a" stroke-width="0.7"/>
<rect x="335.6" y="396.8" width="25.1" height="14.4" fill="none" stroke="#4a4a4a" stroke-width="0.7"/>
<text x="373.8" y="365.6" font-size="4.4" text-anchor="middle" fill="#111" style="stroke-width:0.18px">GMP</text>
<text x="373.8" y="370.8" font-size="4.4" text-anchor="middle" fill="#111" style="stroke-width:0.18px">53%</text>
<text x="339" y="384.2" font-size="4.4" fill="#111" style="stroke-width:0.18px">MEP</text>
<text x="339" y="389.6" font-size="4.4" fill="#111" style="stroke-width:0.18px">13.7%</text>
<text x="388" y="400.6" font-size="4.4" fill="#111" style="stroke-width:0.18px">CMP</text>
<text x="388" y="405.6" font-size="4.4" fill="#111" style="stroke-width:0.18px">30.3%</text>
<rect x="461" y="373.1" width="26.5" height="18.3" fill="none" stroke="#4a4a4a" stroke-width="0.7"/>
<rect x="461" y="391.4" width="26.5" height="20.4" fill="none" stroke="#4a4a4a" stroke-width="0.7"/>
<rect x="435.7" y="397.1" width="25.3" height="14.7" fill="none" stroke="#4a4a4a" stroke-width="0.7"/>
<text x="479" y="365.6" font-size="4.4" text-anchor="middle" fill="#111" style="stroke-width:0.18px">GMP</text>
<text x="479" y="370.8" font-size="4.4" text-anchor="middle" fill="#111" style="stroke-width:0.18px">59.1%</text>
<text x="443" y="384.2" font-size="4.4" fill="#111" style="stroke-width:0.18px">MEP</text>
<text x="443" y="389.6" font-size="4.4" fill="#111" style="stroke-width:0.18px">13.3%</text>
<text x="488.8" y="400.6" font-size="4.4" fill="#111" style="stroke-width:0.18px">CMP</text>
<text x="488.8" y="405.6" font-size="4.4" fill="#111" style="stroke-width:0.18px">22.6%</text>
<rect x="234.5" y="527.3" width="17" height="22.7" fill="none" stroke="#888" stroke-width="0.5"/>
<rect x="268.5" y="527.3" width="19.2" height="23.4" fill="none" stroke="#888" stroke-width="0.5"/>
<path d="M287.7 527.3L287.7 550.7" stroke="#777" stroke-width="1.3"/>
<rect x="251.5" y="527.3" width="17" height="23.4" fill="none" stroke="#111" stroke-width="1.1"/>
<text x="259.6" y="512.2" font-size="4.4" text-anchor="middle" fill="#111" style="stroke-width:0.18px">Immature Cells</text>
<text x="259.6" y="516.8" font-size="4.4" text-anchor="middle" fill="#111" style="stroke-width:0.18px">13.5%</text>
<text x="246.5" y="521.6" font-size="4.4" text-anchor="middle" fill="#111" style="stroke-width:0.18px">Monocytes</text>
<text x="244" y="526.2" font-size="4.4" text-anchor="middle" fill="#111" style="stroke-width:0.18px">4.9%</text>
<text x="276.8" y="521.6" font-size="4.4" text-anchor="middle" fill="#111" style="stroke-width:0.18px">Granulocytes</text>
<text x="276.8" y="526.2" font-size="4.4" text-anchor="middle" fill="#111" style="stroke-width:0.18px">20.8%</text>
<rect x="335.6" y="527.7" width="15.6" height="22.9" fill="none" stroke="#888" stroke-width="0.5"/>
<rect x="368.4" y="527.7" width="18.8" height="22.9" fill="none" stroke="#888" stroke-width="0.5"/>
<path d="M387.2 527.7L387.2 550.6" stroke="#777" stroke-width="1.3"/>
<rect x="351.2" y="527.7" width="17.2" height="22.9" fill="none" stroke="#111" stroke-width="1.1"/>
<text x="361" y="512.2" font-size="4.4" text-anchor="middle" fill="#111" style="stroke-width:0.18px">Immature Cells</text>
<text x="361" y="516.8" font-size="4.4" text-anchor="middle" fill="#111" style="stroke-width:0.18px">16.3%</text>
<text x="346.5" y="521.6" font-size="4.4" text-anchor="middle" fill="#111" style="stroke-width:0.18px">Monocytes</text>
<text x="344" y="526.2" font-size="4.4" text-anchor="middle" fill="#111" style="stroke-width:0.18px">8.0%</text>
<text x="378.2" y="521.6" font-size="4.4" text-anchor="middle" fill="#111" style="stroke-width:0.18px">Granulocytes</text>
<text x="378.2" y="526.2" font-size="4.4" text-anchor="middle" fill="#111" style="stroke-width:0.18px">25.9%</text>
<rect x="435.7" y="527.2" width="15.9" height="22.4" fill="none" stroke="#888" stroke-width="0.5"/>
<path d="M451.6 527.2L451.6 549.6" stroke="#111" stroke-width="1.3"/>
<rect x="468.9" y="527.2" width="18.6" height="23.4" fill="none" stroke="#222" stroke-width="0.7"/>
<path d="M468.9 527.2L468.9 550.6" stroke="#111" stroke-width="1.3"/>
<text x="461" y="512.2" font-size="4.4" text-anchor="middle" fill="#111" style="stroke-width:0.18px">Immature Cells</text>
<text x="461" y="516.8" font-size="4.4" text-anchor="middle" fill="#111" style="stroke-width:0.18px">23.7%</text>
<text x="447.5" y="521.6" font-size="4.4" text-anchor="middle" fill="#111" style="stroke-width:0.18px">Monocytes</text>
<text x="445" y="526.2" font-size="4.4" text-anchor="middle" fill="#111" style="stroke-width:0.18px">10.0%</text>
<text x="477" y="521.6" font-size="4.4" text-anchor="middle" fill="#111" style="stroke-width:0.18px">Granulocytes</text>
<text x="477" y="526.2" font-size="4.4" text-anchor="middle" fill="#111" style="stroke-width:0.18px">26.9%</text>
<rect x="0.55" y="0.55" width="518.9" height="675.9" fill="none" stroke="#000" stroke-width="1.3"/>
</svg>
</body></html>
